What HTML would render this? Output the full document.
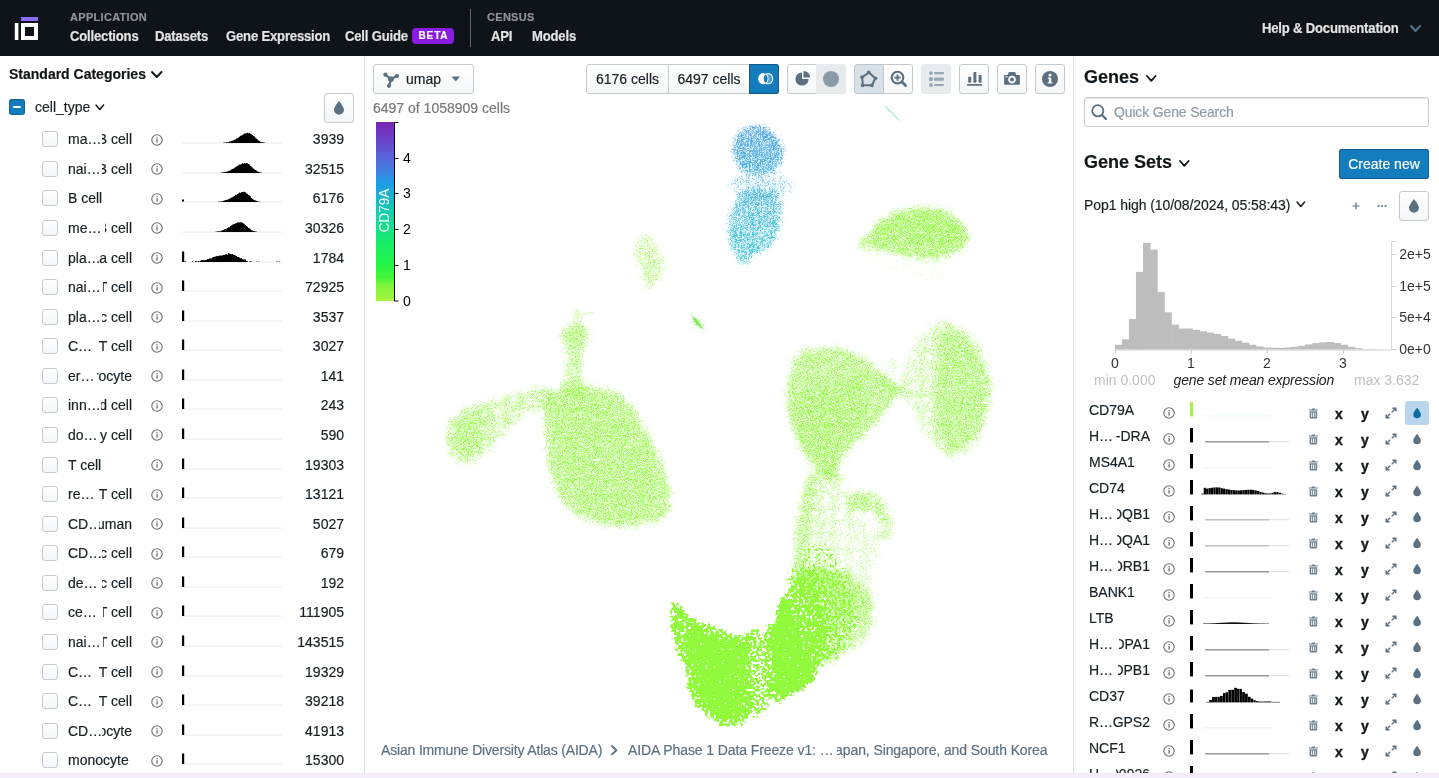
<!DOCTYPE html>
<html lang="en"><head><meta charset="utf-8"><title>CZ CELLxGENE Explorer</title>
<style>
*{box-sizing:border-box;margin:0;padding:0}
html,body{width:1439px;height:778px;overflow:hidden;background:#fff}
body{opacity:.999;-webkit-text-stroke:.18px;font-family:"Liberation Sans",Arial,sans-serif;font-size:14px;color:#182026;position:relative}
.abs{position:absolute}
#nav{position:absolute;left:0;top:0;width:1439px;height:56px;background:#0f141a}
#nav .sec{position:absolute;top:11px;font-size:11px;font-weight:700;color:#8f949a;letter-spacing:.3px;line-height:12px;white-space:nowrap}
#nav .lnk{position:absolute;top:28px;font-size:14px;font-weight:700;color:#e4e4e4;line-height:16px;white-space:nowrap;letter-spacing:-.2px;transform:scaleX(.935);transform-origin:0 0}
#beta{position:absolute;left:412px;top:28px;width:42px;height:16px;border-radius:4px;background:#8a1be0;color:#fff;font-size:10px;font-weight:700;letter-spacing:.85px;line-height:16px;text-align:center;padding-left:1px}
#left{position:absolute;left:0;top:56px;width:365px;height:717px;border-right:1px solid #d5dfe7;overflow:hidden;background:#fff}
#right{position:absolute;left:1073px;top:56px;width:366px;height:717px;border-left:1px solid #dcdfe2;overflow:hidden;background:#fff}
#bottom{position:absolute;left:0;top:773px;width:1439px;height:5px;background:#f4eefa}
.h1{position:absolute;font-weight:700;white-space:nowrap;color:#10161a}
.row{position:absolute;left:0;width:364px;height:30px}
.cb{position:absolute;left:42px;top:7px;width:16px;height:16px;border-radius:3px;border:1px solid #c5cbd1;background:linear-gradient(#fff,#f3f6f8)}
.lab{position:absolute;left:68px;top:6px;line-height:18px;white-space:nowrap;font-size:14px;color:#182026}
.lab span{display:inline-block;vertical-align:top;overflow:hidden;height:18px}
.cnt{position:absolute;right:20px;top:6px;line-height:18px;font-size:14px;text-align:right;color:#182026}
.btn{position:absolute;border:1px solid #c4cad0;border-radius:3px;background:linear-gradient(#fff,#f4f6f8);}
.grow{position:absolute;left:0;width:364px;height:26px}
.glab{position:absolute;left:14px;top:3px;line-height:18px;white-space:nowrap;font-size:14px;color:#182026}
.glab span{display:inline-block;vertical-align:top;overflow:hidden;height:18px}
.xy{position:absolute;top:7px;font-weight:700;font-size:14px;line-height:18px;color:#10161a;-webkit-text-stroke:.35px #10161a}
</style></head>
<body>
<div id="nav">
<svg class="abs" style="left:0;top:0" width="60" height="56"><rect x="21" y="17" width="17" height="4" fill="#8b6cf6"/><rect x="14.8" y="23" width="3.6" height="17" fill="#fff"/><path d="M21 23h17v17h-17z M25 27v9h9v-9z" fill="#fff" fill-rule="evenodd"/></svg>
<div class="sec" style="left:70px">APPLICATION</div>
<div class="lnk" style="left:70px">Collections</div>
<div class="lnk" style="left:155px">Datasets</div>
<div class="lnk" style="left:226px">Gene Expression</div>
<div class="lnk" style="left:345px">Cell Guide</div>
<div id="beta">BETA</div>
<div class="abs" style="left:470px;top:9px;width:1px;height:38px;background:#60656b"></div>
<div class="sec" style="left:487px">CENSUS</div>
<div class="lnk" style="left:491px">API</div>
<div class="lnk" style="left:532px">Models</div>
<div class="lnk" style="left:1262px;top:20px">Help &amp; Documentation</div>
<svg class="abs" style="left:1408.5px;top:23.5px" width="13" height="9" viewBox="-2 -2 13 9"><path d="M0 0 L4.5 5 L9 0" fill="none" stroke="#56708a" stroke-width="2.0" stroke-linecap="round" stroke-linejoin="round"/></svg>
</div>
<div id="left">
<div class="h1" style="left:9px;top:9px;font-size:14px;line-height:18px">Standard Categories</div>
<svg class="abs" style="left:150px;top:13.5px" width="13.5" height="9" viewBox="-2 -2 13.5 9"><path d="M0 0 L4.75 5 L9.5 0" fill="none" stroke="#10161a" stroke-width="1.9" stroke-linecap="round" stroke-linejoin="round"/></svg>
<div class="abs" style="left:9px;top:43px;width:16px;height:16px;border-radius:3px;background:#137cbd;box-shadow:inset 0 0 0 1px rgba(16,22,26,.25)"></div>
<div class="abs" style="left:13px;top:50px;width:8px;height:2.3px;border-radius:1px;background:#fff"></div>
<div class="abs" style="left:35px;top:42px;line-height:18px;font-size:14px">cell_type</div>
<svg class="abs" style="left:94.3px;top:46.8px" width="11.6" height="8.4" viewBox="-2 -2 11.6 8.4"><path d="M0 0 L3.8 4.4 L7.6 0" fill="none" stroke="#10161a" stroke-width="1.5" stroke-linecap="round" stroke-linejoin="round"/></svg>
<div class="btn" style="left:324px;top:37px;width:30px;height:30px"></div>
<svg class="abs" style="left:331px;top:44px" width="16" height="16" viewBox="0 0 16 16"><path d="M8 1 C8 1 3 7 3 9.8 A5 4.9 0 0 0 13 9.8 C13 7 8 1 8 1 Z" fill="#5c7080"/></svg>
<div class="row" style="top:68.20px">
<div class="cb"></div>
<div class="lab">ma…</div>
<div class="lab" style="left:auto;right:232px"><span style="direction:rtl;text-align:right"><span style="direction:ltr;margin-left:-4px">B cell</span></span></div>
<svg class="abs" style="left:150px;top:8.5px" width="14" height="14" viewBox="0 0 14 14"><circle cx="7" cy="7" r="5.2" fill="none" stroke="#6b6f73" stroke-width="1.1"/><rect x="6.4" y="6.2" width="1.3" height="3.4" fill="#6b6f73"/><rect x="6.4" y="4.1" width="1.3" height="1.3" fill="#6b6f73"/></svg>
<svg class="abs" style="left:182px;top:4px" width="101" height="16" viewBox="0 0 101 16"><rect x="0" y="14.7" width="100" height="0.7" fill="#e2e2e2"/><rect x="41" y="14.7" width="1" height="0.3" fill="#000"/><rect x="42" y="14.6" width="1" height="0.4" fill="#000"/><rect x="43" y="14.5" width="1" height="0.5" fill="#000"/><rect x="44" y="14.3" width="1" height="0.7" fill="#000"/><rect x="45" y="14.3" width="1" height="0.7" fill="#000"/><rect x="46" y="14.2" width="1" height="0.8" fill="#000"/><rect x="47" y="13.5" width="1" height="1.5" fill="#000"/><rect x="48" y="13.6" width="1" height="1.4" fill="#000"/><rect x="49" y="13.0" width="1" height="2.0" fill="#000"/><rect x="50" y="12.7" width="1" height="2.3" fill="#000"/><rect x="51" y="12.4" width="1" height="2.6" fill="#000"/><rect x="52" y="11.6" width="1" height="3.4" fill="#000"/><rect x="53" y="11.4" width="1" height="3.6" fill="#000"/><rect x="54" y="10.5" width="1" height="4.5" fill="#000"/><rect x="55" y="10.2" width="1" height="4.8" fill="#000"/><rect x="56" y="9.5" width="1" height="5.5" fill="#000"/><rect x="57" y="8.7" width="1" height="6.3" fill="#000"/><rect x="58" y="7.8" width="1" height="7.2" fill="#000"/><rect x="59" y="7.6" width="1" height="7.4" fill="#000"/><rect x="60" y="7.0" width="1" height="8.0" fill="#000"/><rect x="61" y="6.2" width="1" height="8.8" fill="#000"/><rect x="62" y="5.5" width="1" height="9.5" fill="#000"/><rect x="63" y="5.4" width="1" height="9.6" fill="#000"/><rect x="64" y="5.3" width="1" height="9.7" fill="#000"/><rect x="65" y="4.7" width="1" height="10.3" fill="#000"/><rect x="66" y="5.3" width="1" height="9.7" fill="#000"/><rect x="67" y="4.9" width="1" height="10.1" fill="#000"/><rect x="68" y="5.7" width="1" height="9.3" fill="#000"/><rect x="69" y="6.4" width="1" height="8.6" fill="#000"/><rect x="70" y="7.1" width="1" height="7.9" fill="#000"/><rect x="71" y="7.9" width="1" height="7.1" fill="#000"/><rect x="72" y="8.5" width="1" height="6.5" fill="#000"/><rect x="73" y="9.9" width="1" height="5.1" fill="#000"/><rect x="74" y="10.6" width="1" height="4.4" fill="#000"/><rect x="75" y="11.4" width="1" height="3.6" fill="#000"/><rect x="76" y="12.4" width="1" height="2.6" fill="#000"/><rect x="77" y="12.9" width="1" height="2.1" fill="#000"/><rect x="78" y="13.8" width="1" height="1.2" fill="#000"/><rect x="79" y="14.2" width="1" height="0.8" fill="#000"/><rect x="80" y="14.2" width="1" height="0.8" fill="#000"/><rect x="81" y="14.5" width="1" height="0.5" fill="#000"/><rect x="82" y="14.6" width="1" height="0.4" fill="#000"/></svg>
<div class="cnt">3939</div>
</div>
<div class="row" style="top:97.78px">
<div class="cb"></div>
<div class="lab">nai…</div>
<div class="lab" style="left:auto;right:232px"><span style="direction:rtl;text-align:right"><span style="direction:ltr;margin-left:-4px">B cell</span></span></div>
<svg class="abs" style="left:150px;top:8.5px" width="14" height="14" viewBox="0 0 14 14"><circle cx="7" cy="7" r="5.2" fill="none" stroke="#6b6f73" stroke-width="1.1"/><rect x="6.4" y="6.2" width="1.3" height="3.4" fill="#6b6f73"/><rect x="6.4" y="4.1" width="1.3" height="1.3" fill="#6b6f73"/></svg>
<svg class="abs" style="left:182px;top:4px" width="101" height="16" viewBox="0 0 101 16"><rect x="0" y="14.7" width="100" height="0.7" fill="#e2e2e2"/><rect x="38" y="14.7" width="1" height="0.3" fill="#000"/><rect x="39" y="14.6" width="1" height="0.4" fill="#000"/><rect x="40" y="14.5" width="1" height="0.5" fill="#000"/><rect x="41" y="14.3" width="1" height="0.7" fill="#000"/><rect x="42" y="14.3" width="1" height="0.7" fill="#000"/><rect x="43" y="13.8" width="1" height="1.2" fill="#000"/><rect x="44" y="13.7" width="1" height="1.3" fill="#000"/><rect x="45" y="13.5" width="1" height="1.5" fill="#000"/><rect x="46" y="12.9" width="1" height="2.1" fill="#000"/><rect x="47" y="12.6" width="1" height="2.4" fill="#000"/><rect x="48" y="12.3" width="1" height="2.7" fill="#000"/><rect x="49" y="11.4" width="1" height="3.6" fill="#000"/><rect x="50" y="10.9" width="1" height="4.1" fill="#000"/><rect x="51" y="10.7" width="1" height="4.3" fill="#000"/><rect x="52" y="9.8" width="1" height="5.2" fill="#000"/><rect x="53" y="9.2" width="1" height="5.8" fill="#000"/><rect x="54" y="8.4" width="1" height="6.6" fill="#000"/><rect x="55" y="7.8" width="1" height="7.2" fill="#000"/><rect x="56" y="7.5" width="1" height="7.5" fill="#000"/><rect x="57" y="6.5" width="1" height="8.5" fill="#000"/><rect x="58" y="6.6" width="1" height="8.4" fill="#000"/><rect x="59" y="5.9" width="1" height="9.1" fill="#000"/><rect x="60" y="5.3" width="1" height="9.7" fill="#000"/><rect x="61" y="5.5" width="1" height="9.5" fill="#000"/><rect x="62" y="5.1" width="1" height="9.9" fill="#000"/><rect x="63" y="5.3" width="1" height="9.7" fill="#000"/><rect x="64" y="5.0" width="1" height="10.0" fill="#000"/><rect x="65" y="5.3" width="1" height="9.7" fill="#000"/><rect x="66" y="6.1" width="1" height="8.9" fill="#000"/><rect x="67" y="6.6" width="1" height="8.4" fill="#000"/><rect x="68" y="7.9" width="1" height="7.1" fill="#000"/><rect x="69" y="8.6" width="1" height="6.4" fill="#000"/><rect x="70" y="9.6" width="1" height="5.4" fill="#000"/><rect x="71" y="10.6" width="1" height="4.4" fill="#000"/><rect x="72" y="11.5" width="1" height="3.5" fill="#000"/><rect x="73" y="12.0" width="1" height="3.0" fill="#000"/><rect x="74" y="12.6" width="1" height="2.4" fill="#000"/><rect x="75" y="13.5" width="1" height="1.5" fill="#000"/><rect x="76" y="13.8" width="1" height="1.2" fill="#000"/><rect x="77" y="14.2" width="1" height="0.8" fill="#000"/><rect x="78" y="14.5" width="1" height="0.5" fill="#000"/><rect x="79" y="14.6" width="1" height="0.4" fill="#000"/></svg>
<div class="cnt">32515</div>
</div>
<div class="row" style="top:127.35px">
<div class="cb"></div>
<div class="lab">B cell</div>
<svg class="abs" style="left:150px;top:8.5px" width="14" height="14" viewBox="0 0 14 14"><circle cx="7" cy="7" r="5.2" fill="none" stroke="#6b6f73" stroke-width="1.1"/><rect x="6.4" y="6.2" width="1.3" height="3.4" fill="#6b6f73"/><rect x="6.4" y="4.1" width="1.3" height="1.3" fill="#6b6f73"/></svg>
<svg class="abs" style="left:182px;top:4px" width="101" height="16" viewBox="0 0 101 16"><rect x="0" y="14.7" width="100" height="0.7" fill="#e2e2e2"/><rect x="36" y="14.7" width="1" height="0.3" fill="#000"/><rect x="37" y="14.6" width="1" height="0.4" fill="#000"/><rect x="38" y="14.5" width="1" height="0.5" fill="#000"/><rect x="39" y="14.3" width="1" height="0.7" fill="#000"/><rect x="40" y="14.4" width="1" height="0.6" fill="#000"/><rect x="41" y="13.8" width="1" height="1.2" fill="#000"/><rect x="42" y="13.5" width="1" height="1.5" fill="#000"/><rect x="43" y="13.0" width="1" height="2.0" fill="#000"/><rect x="44" y="12.8" width="1" height="2.2" fill="#000"/><rect x="45" y="12.7" width="1" height="2.3" fill="#000"/><rect x="46" y="12.2" width="1" height="2.8" fill="#000"/><rect x="47" y="11.5" width="1" height="3.5" fill="#000"/><rect x="48" y="11.4" width="1" height="3.6" fill="#000"/><rect x="49" y="10.5" width="1" height="4.5" fill="#000"/><rect x="50" y="10.1" width="1" height="4.9" fill="#000"/><rect x="51" y="9.5" width="1" height="5.5" fill="#000"/><rect x="52" y="8.9" width="1" height="6.1" fill="#000"/><rect x="53" y="7.8" width="1" height="7.2" fill="#000"/><rect x="54" y="7.6" width="1" height="7.4" fill="#000"/><rect x="55" y="7.0" width="1" height="8.0" fill="#000"/><rect x="56" y="6.4" width="1" height="8.6" fill="#000"/><rect x="57" y="5.6" width="1" height="9.4" fill="#000"/><rect x="58" y="5.8" width="1" height="9.2" fill="#000"/><rect x="59" y="5.3" width="1" height="9.7" fill="#000"/><rect x="60" y="5.0" width="1" height="10.0" fill="#000"/><rect x="61" y="4.7" width="1" height="10.3" fill="#000"/><rect x="62" y="4.9" width="1" height="10.1" fill="#000"/><rect x="63" y="5.3" width="1" height="9.7" fill="#000"/><rect x="64" y="6.3" width="1" height="8.7" fill="#000"/><rect x="65" y="6.9" width="1" height="8.1" fill="#000"/><rect x="66" y="7.9" width="1" height="7.1" fill="#000"/><rect x="67" y="8.5" width="1" height="6.5" fill="#000"/><rect x="68" y="9.4" width="1" height="5.6" fill="#000"/><rect x="69" y="10.9" width="1" height="4.1" fill="#000"/><rect x="70" y="11.7" width="1" height="3.3" fill="#000"/><rect x="71" y="12.5" width="1" height="2.5" fill="#000"/><rect x="72" y="13.1" width="1" height="1.9" fill="#000"/><rect x="73" y="13.5" width="1" height="1.5" fill="#000"/><rect x="74" y="13.8" width="1" height="1.2" fill="#000"/><rect x="75" y="14.2" width="1" height="0.8" fill="#000"/><rect x="76" y="14.5" width="1" height="0.5" fill="#000"/><rect x="77" y="14.6" width="1" height="0.4" fill="#000"/><rect x="0" y="12.5" width="2" height="2" fill="#000"/></svg>
<div class="cnt">6176</div>
</div>
<div class="row" style="top:156.93px">
<div class="cb"></div>
<div class="lab">me…</div>
<div class="lab" style="left:auto;right:232px"><span style="direction:rtl;text-align:right"><span style="direction:ltr;margin-left:-7px">B cell</span></span></div>
<svg class="abs" style="left:150px;top:8.5px" width="14" height="14" viewBox="0 0 14 14"><circle cx="7" cy="7" r="5.2" fill="none" stroke="#6b6f73" stroke-width="1.1"/><rect x="6.4" y="6.2" width="1.3" height="3.4" fill="#6b6f73"/><rect x="6.4" y="4.1" width="1.3" height="1.3" fill="#6b6f73"/></svg>
<svg class="abs" style="left:182px;top:4px" width="101" height="16" viewBox="0 0 101 16"><rect x="0" y="14.7" width="100" height="0.7" fill="#e2e2e2"/><rect x="33" y="14.7" width="1" height="0.3" fill="#000"/><rect x="34" y="14.6" width="1" height="0.4" fill="#000"/><rect x="35" y="14.5" width="1" height="0.5" fill="#000"/><rect x="36" y="14.3" width="1" height="0.7" fill="#000"/><rect x="37" y="14.3" width="1" height="0.7" fill="#000"/><rect x="38" y="14.3" width="1" height="0.7" fill="#000"/><rect x="39" y="13.7" width="1" height="1.3" fill="#000"/><rect x="40" y="13.4" width="1" height="1.6" fill="#000"/><rect x="41" y="12.9" width="1" height="2.1" fill="#000"/><rect x="42" y="12.3" width="1" height="2.7" fill="#000"/><rect x="43" y="12.0" width="1" height="3.0" fill="#000"/><rect x="44" y="11.6" width="1" height="3.4" fill="#000"/><rect x="45" y="11.0" width="1" height="4.0" fill="#000"/><rect x="46" y="10.4" width="1" height="4.6" fill="#000"/><rect x="47" y="10.2" width="1" height="4.8" fill="#000"/><rect x="48" y="9.0" width="1" height="6.0" fill="#000"/><rect x="49" y="8.4" width="1" height="6.6" fill="#000"/><rect x="50" y="7.7" width="1" height="7.3" fill="#000"/><rect x="51" y="7.2" width="1" height="7.8" fill="#000"/><rect x="52" y="6.9" width="1" height="8.1" fill="#000"/><rect x="53" y="6.4" width="1" height="8.6" fill="#000"/><rect x="54" y="6.1" width="1" height="8.9" fill="#000"/><rect x="55" y="5.4" width="1" height="9.6" fill="#000"/><rect x="56" y="5.5" width="1" height="9.5" fill="#000"/><rect x="57" y="5.4" width="1" height="9.6" fill="#000"/><rect x="58" y="5.2" width="1" height="9.8" fill="#000"/><rect x="59" y="5.4" width="1" height="9.6" fill="#000"/><rect x="60" y="5.6" width="1" height="9.4" fill="#000"/><rect x="61" y="6.4" width="1" height="8.6" fill="#000"/><rect x="62" y="7.2" width="1" height="7.8" fill="#000"/><rect x="63" y="8.0" width="1" height="7.0" fill="#000"/><rect x="64" y="9.0" width="1" height="6.0" fill="#000"/><rect x="65" y="9.8" width="1" height="5.2" fill="#000"/><rect x="66" y="11.0" width="1" height="4.0" fill="#000"/><rect x="67" y="11.3" width="1" height="3.7" fill="#000"/><rect x="68" y="12.2" width="1" height="2.8" fill="#000"/><rect x="69" y="13.2" width="1" height="1.8" fill="#000"/><rect x="70" y="13.6" width="1" height="1.4" fill="#000"/><rect x="71" y="14.0" width="1" height="1.0" fill="#000"/><rect x="72" y="14.2" width="1" height="0.8" fill="#000"/><rect x="73" y="14.5" width="1" height="0.5" fill="#000"/><rect x="74" y="14.6" width="1" height="0.4" fill="#000"/></svg>
<div class="cnt">30326</div>
</div>
<div class="row" style="top:186.50px">
<div class="cb"></div>
<div class="lab">pla…</div>
<div class="lab" style="left:auto;right:232px"><span style="direction:rtl;text-align:right"><span style="direction:ltr;margin-left:-0px">a cell</span></span></div>
<svg class="abs" style="left:150px;top:8.5px" width="14" height="14" viewBox="0 0 14 14"><circle cx="7" cy="7" r="5.2" fill="none" stroke="#6b6f73" stroke-width="1.1"/><rect x="6.4" y="6.2" width="1.3" height="3.4" fill="#6b6f73"/><rect x="6.4" y="4.1" width="1.3" height="1.3" fill="#6b6f73"/></svg>
<svg class="abs" style="left:182px;top:4px" width="101" height="16" viewBox="0 0 101 16"><rect x="0" y="14.7" width="100" height="0.7" fill="#e2e2e2"/><rect x="2" y="14.6" width="1" height="0.4" fill="#000"/><rect x="3" y="14.4" width="1" height="0.6" fill="#000"/><rect x="10" y="14.3" width="1" height="0.7" fill="#000"/><rect x="13" y="14.0" width="1" height="1.0" fill="#000"/><rect x="14" y="14.3" width="1" height="0.7" fill="#000"/><rect x="15" y="14.6" width="1" height="0.4" fill="#000"/><rect x="16" y="14.1" width="1" height="0.9" fill="#000"/><rect x="17" y="14.5" width="1" height="0.5" fill="#000"/><rect x="18" y="13.8" width="1" height="1.2" fill="#000"/><rect x="19" y="13.2" width="1" height="1.8" fill="#000"/><rect x="20" y="13.1" width="1" height="1.9" fill="#000"/><rect x="21" y="13.1" width="1" height="1.9" fill="#000"/><rect x="22" y="13.3" width="1" height="1.7" fill="#000"/><rect x="23" y="13.0" width="1" height="2.0" fill="#000"/><rect x="24" y="12.9" width="1" height="2.1" fill="#000"/><rect x="25" y="12.0" width="1" height="3.0" fill="#000"/><rect x="26" y="12.0" width="1" height="3.0" fill="#000"/><rect x="27" y="11.4" width="1" height="3.6" fill="#000"/><rect x="28" y="11.6" width="1" height="3.4" fill="#000"/><rect x="29" y="11.4" width="1" height="3.6" fill="#000"/><rect x="30" y="10.5" width="1" height="4.5" fill="#000"/><rect x="31" y="10.0" width="1" height="5.0" fill="#000"/><rect x="32" y="9.8" width="1" height="5.2" fill="#000"/><rect x="33" y="9.5" width="1" height="5.5" fill="#000"/><rect x="34" y="9.2" width="1" height="5.8" fill="#000"/><rect x="35" y="8.9" width="1" height="6.1" fill="#000"/><rect x="36" y="9.2" width="1" height="5.8" fill="#000"/><rect x="37" y="8.6" width="1" height="6.4" fill="#000"/><rect x="38" y="8.5" width="1" height="6.5" fill="#000"/><rect x="39" y="8.6" width="1" height="6.4" fill="#000"/><rect x="40" y="8.4" width="1" height="6.6" fill="#000"/><rect x="41" y="8.0" width="1" height="7.0" fill="#000"/><rect x="42" y="7.9" width="1" height="7.1" fill="#000"/><rect x="43" y="7.4" width="1" height="7.6" fill="#000"/><rect x="44" y="7.1" width="1" height="7.9" fill="#000"/><rect x="45" y="7.6" width="1" height="7.4" fill="#000"/><rect x="46" y="6.0" width="1" height="9.0" fill="#000"/><rect x="47" y="6.6" width="1" height="8.4" fill="#000"/><rect x="48" y="6.9" width="1" height="8.1" fill="#000"/><rect x="49" y="7.2" width="1" height="7.8" fill="#000"/><rect x="50" y="7.1" width="1" height="7.9" fill="#000"/><rect x="51" y="7.8" width="1" height="7.2" fill="#000"/><rect x="52" y="8.0" width="1" height="7.0" fill="#000"/><rect x="53" y="8.6" width="1" height="6.4" fill="#000"/><rect x="54" y="9.0" width="1" height="6.0" fill="#000"/><rect x="55" y="9.8" width="1" height="5.2" fill="#000"/><rect x="56" y="10.0" width="1" height="5.0" fill="#000"/><rect x="57" y="10.5" width="1" height="4.5" fill="#000"/><rect x="58" y="11.2" width="1" height="3.8" fill="#000"/><rect x="59" y="11.2" width="1" height="3.8" fill="#000"/><rect x="60" y="12.2" width="1" height="2.8" fill="#000"/><rect x="61" y="12.5" width="1" height="2.5" fill="#000"/><rect x="62" y="12.3" width="1" height="2.7" fill="#000"/><rect x="63" y="12.5" width="1" height="2.5" fill="#000"/><rect x="64" y="14.1" width="1" height="0.9" fill="#000"/><rect x="65" y="14.3" width="1" height="0.7" fill="#000"/><rect x="67" y="14.5" width="1" height="0.5" fill="#000"/><rect x="68" y="14.4" width="1" height="0.6" fill="#000"/><rect x="69" y="14.5" width="1" height="0.5" fill="#000"/><rect x="74" y="14.6" width="1" height="0.4" fill="#000"/><rect x="76" y="14.7" width="1" height="0.3" fill="#000"/><rect x="77" y="14.7" width="1" height="0.3" fill="#000"/><rect x="94" y="14.6" width="1" height="0.4" fill="#000"/><rect x="95" y="14.7" width="1" height="0.3" fill="#000"/><rect x="97" y="14.6" width="1" height="0.4" fill="#000"/><rect x="0" y="4.5" width="2.2" height="10.5" fill="#000"/></svg>
<div class="cnt">1784</div>
</div>
<div class="row" style="top:216.07px">
<div class="cb"></div>
<div class="lab">nai…</div>
<div class="lab" style="left:auto;right:232px"><span style="direction:rtl;text-align:right"><span style="direction:ltr;margin-left:-4px">T cell</span></span></div>
<svg class="abs" style="left:150px;top:8.5px" width="14" height="14" viewBox="0 0 14 14"><circle cx="7" cy="7" r="5.2" fill="none" stroke="#6b6f73" stroke-width="1.1"/><rect x="6.4" y="6.2" width="1.3" height="3.4" fill="#6b6f73"/><rect x="6.4" y="4.1" width="1.3" height="1.3" fill="#6b6f73"/></svg>
<svg class="abs" style="left:182px;top:4px" width="101" height="16" viewBox="0 0 101 16"><rect x="0" y="14.7" width="100" height="0.7" fill="#e2e2e2"/><rect x="0" y="4.5" width="2.2" height="10.5" fill="#000"/></svg>
<div class="cnt">72925</div>
</div>
<div class="row" style="top:245.65px">
<div class="cb"></div>
<div class="lab">pla…</div>
<div class="lab" style="left:auto;right:232px"><span style="direction:rtl;text-align:right"><span style="direction:ltr;margin-left:-2px">c cell</span></span></div>
<svg class="abs" style="left:150px;top:8.5px" width="14" height="14" viewBox="0 0 14 14"><circle cx="7" cy="7" r="5.2" fill="none" stroke="#6b6f73" stroke-width="1.1"/><rect x="6.4" y="6.2" width="1.3" height="3.4" fill="#6b6f73"/><rect x="6.4" y="4.1" width="1.3" height="1.3" fill="#6b6f73"/></svg>
<svg class="abs" style="left:182px;top:4px" width="101" height="16" viewBox="0 0 101 16"><rect x="0" y="14.7" width="100" height="0.7" fill="#e2e2e2"/><rect x="0" y="4.5" width="2.2" height="10.5" fill="#000"/></svg>
<div class="cnt">3537</div>
</div>
<div class="row" style="top:275.23px">
<div class="cb"></div>
<div class="lab">C…</div>
<div class="lab" style="left:auto;right:232px"><span style="direction:rtl;text-align:right"><span style="direction:ltr;margin-left:-0px">&nbsp;T cell</span></span></div>
<svg class="abs" style="left:150px;top:8.5px" width="14" height="14" viewBox="0 0 14 14"><circle cx="7" cy="7" r="5.2" fill="none" stroke="#6b6f73" stroke-width="1.1"/><rect x="6.4" y="6.2" width="1.3" height="3.4" fill="#6b6f73"/><rect x="6.4" y="4.1" width="1.3" height="1.3" fill="#6b6f73"/></svg>
<svg class="abs" style="left:182px;top:4px" width="101" height="16" viewBox="0 0 101 16"><rect x="0" y="14.7" width="100" height="0.7" fill="#e2e2e2"/><rect x="0" y="4.5" width="2.2" height="10.5" fill="#000"/></svg>
<div class="cnt">3027</div>
</div>
<div class="row" style="top:304.80px">
<div class="cb"></div>
<div class="lab">er…</div>
<div class="lab" style="left:auto;right:232px"><span style="direction:rtl;text-align:right"><span style="direction:ltr;margin-left:-3px">rocyte</span></span></div>
<svg class="abs" style="left:150px;top:8.5px" width="14" height="14" viewBox="0 0 14 14"><circle cx="7" cy="7" r="5.2" fill="none" stroke="#6b6f73" stroke-width="1.1"/><rect x="6.4" y="6.2" width="1.3" height="3.4" fill="#6b6f73"/><rect x="6.4" y="4.1" width="1.3" height="1.3" fill="#6b6f73"/></svg>
<svg class="abs" style="left:182px;top:4px" width="101" height="16" viewBox="0 0 101 16"><rect x="0" y="14.7" width="100" height="0.7" fill="#e2e2e2"/><rect x="0" y="4.5" width="2.2" height="10.5" fill="#000"/></svg>
<div class="cnt">141</div>
</div>
<div class="row" style="top:334.38px">
<div class="cb"></div>
<div class="lab">inn…</div>
<div class="lab" style="left:auto;right:232px"><span style="direction:rtl;text-align:right"><span style="direction:ltr;margin-left:-2px">d cell</span></span></div>
<svg class="abs" style="left:150px;top:8.5px" width="14" height="14" viewBox="0 0 14 14"><circle cx="7" cy="7" r="5.2" fill="none" stroke="#6b6f73" stroke-width="1.1"/><rect x="6.4" y="6.2" width="1.3" height="3.4" fill="#6b6f73"/><rect x="6.4" y="4.1" width="1.3" height="1.3" fill="#6b6f73"/></svg>
<svg class="abs" style="left:182px;top:4px" width="101" height="16" viewBox="0 0 101 16"><rect x="0" y="14.7" width="100" height="0.7" fill="#e2e2e2"/><rect x="0" y="4.5" width="2.2" height="10.5" fill="#000"/></svg>
<div class="cnt">243</div>
</div>
<div class="row" style="top:363.95px">
<div class="cb"></div>
<div class="lab">do…</div>
<div class="lab" style="left:auto;right:232px"><span style="direction:rtl;text-align:right"><span style="direction:ltr;margin-left:-0px">y cell</span></span></div>
<svg class="abs" style="left:150px;top:8.5px" width="14" height="14" viewBox="0 0 14 14"><circle cx="7" cy="7" r="5.2" fill="none" stroke="#6b6f73" stroke-width="1.1"/><rect x="6.4" y="6.2" width="1.3" height="3.4" fill="#6b6f73"/><rect x="6.4" y="4.1" width="1.3" height="1.3" fill="#6b6f73"/></svg>
<svg class="abs" style="left:182px;top:4px" width="101" height="16" viewBox="0 0 101 16"><rect x="0" y="14.7" width="100" height="0.7" fill="#e2e2e2"/><rect x="0" y="4.5" width="2.2" height="10.5" fill="#000"/></svg>
<div class="cnt">590</div>
</div>
<div class="row" style="top:393.52px">
<div class="cb"></div>
<div class="lab">T cell</div>
<svg class="abs" style="left:150px;top:8.5px" width="14" height="14" viewBox="0 0 14 14"><circle cx="7" cy="7" r="5.2" fill="none" stroke="#6b6f73" stroke-width="1.1"/><rect x="6.4" y="6.2" width="1.3" height="3.4" fill="#6b6f73"/><rect x="6.4" y="4.1" width="1.3" height="1.3" fill="#6b6f73"/></svg>
<svg class="abs" style="left:182px;top:4px" width="101" height="16" viewBox="0 0 101 16"><rect x="0" y="14.7" width="100" height="0.7" fill="#e2e2e2"/><rect x="0" y="4.5" width="2.2" height="10.5" fill="#000"/></svg>
<div class="cnt">19303</div>
</div>
<div class="row" style="top:423.10px">
<div class="cb"></div>
<div class="lab">re…</div>
<div class="lab" style="left:auto;right:232px"><span style="direction:rtl;text-align:right"><span style="direction:ltr;margin-left:-0px">&nbsp;T cell</span></span></div>
<svg class="abs" style="left:150px;top:8.5px" width="14" height="14" viewBox="0 0 14 14"><circle cx="7" cy="7" r="5.2" fill="none" stroke="#6b6f73" stroke-width="1.1"/><rect x="6.4" y="6.2" width="1.3" height="3.4" fill="#6b6f73"/><rect x="6.4" y="4.1" width="1.3" height="1.3" fill="#6b6f73"/></svg>
<svg class="abs" style="left:182px;top:4px" width="101" height="16" viewBox="0 0 101 16"><rect x="0" y="14.7" width="100" height="0.7" fill="#e2e2e2"/><rect x="0" y="4.5" width="2.2" height="10.5" fill="#000"/></svg>
<div class="cnt">13121</div>
</div>
<div class="row" style="top:452.67px">
<div class="cb"></div>
<div class="lab">CD…</div>
<div class="lab" style="left:auto;right:232px"><span style="direction:rtl;text-align:right"><span style="direction:ltr;margin-left:-2px">uman</span></span></div>
<svg class="abs" style="left:150px;top:8.5px" width="14" height="14" viewBox="0 0 14 14"><circle cx="7" cy="7" r="5.2" fill="none" stroke="#6b6f73" stroke-width="1.1"/><rect x="6.4" y="6.2" width="1.3" height="3.4" fill="#6b6f73"/><rect x="6.4" y="4.1" width="1.3" height="1.3" fill="#6b6f73"/></svg>
<svg class="abs" style="left:182px;top:4px" width="101" height="16" viewBox="0 0 101 16"><rect x="0" y="14.7" width="100" height="0.7" fill="#e2e2e2"/><rect x="0" y="4.5" width="2.2" height="10.5" fill="#000"/></svg>
<div class="cnt">5027</div>
</div>
<div class="row" style="top:482.25px">
<div class="cb"></div>
<div class="lab">CD…</div>
<div class="lab" style="left:auto;right:232px"><span style="direction:rtl;text-align:right"><span style="direction:ltr;margin-left:-2px">c cell</span></span></div>
<svg class="abs" style="left:150px;top:8.5px" width="14" height="14" viewBox="0 0 14 14"><circle cx="7" cy="7" r="5.2" fill="none" stroke="#6b6f73" stroke-width="1.1"/><rect x="6.4" y="6.2" width="1.3" height="3.4" fill="#6b6f73"/><rect x="6.4" y="4.1" width="1.3" height="1.3" fill="#6b6f73"/></svg>
<svg class="abs" style="left:182px;top:4px" width="101" height="16" viewBox="0 0 101 16"><rect x="0" y="14.7" width="100" height="0.7" fill="#e2e2e2"/><rect x="0" y="4.5" width="2.2" height="10.5" fill="#000"/></svg>
<div class="cnt">679</div>
</div>
<div class="row" style="top:511.82px">
<div class="cb"></div>
<div class="lab">de…</div>
<div class="lab" style="left:auto;right:232px"><span style="direction:rtl;text-align:right"><span style="direction:ltr;margin-left:-2px">c cell</span></span></div>
<svg class="abs" style="left:150px;top:8.5px" width="14" height="14" viewBox="0 0 14 14"><circle cx="7" cy="7" r="5.2" fill="none" stroke="#6b6f73" stroke-width="1.1"/><rect x="6.4" y="6.2" width="1.3" height="3.4" fill="#6b6f73"/><rect x="6.4" y="4.1" width="1.3" height="1.3" fill="#6b6f73"/></svg>
<svg class="abs" style="left:182px;top:4px" width="101" height="16" viewBox="0 0 101 16"><rect x="0" y="14.7" width="100" height="0.7" fill="#e2e2e2"/><rect x="0" y="4.5" width="2.2" height="10.5" fill="#000"/></svg>
<div class="cnt">192</div>
</div>
<div class="row" style="top:541.40px">
<div class="cb"></div>
<div class="lab">ce…</div>
<div class="lab" style="left:auto;right:232px"><span style="direction:rtl;text-align:right"><span style="direction:ltr;margin-left:-4px">T cell</span></span></div>
<svg class="abs" style="left:150px;top:8.5px" width="14" height="14" viewBox="0 0 14 14"><circle cx="7" cy="7" r="5.2" fill="none" stroke="#6b6f73" stroke-width="1.1"/><rect x="6.4" y="6.2" width="1.3" height="3.4" fill="#6b6f73"/><rect x="6.4" y="4.1" width="1.3" height="1.3" fill="#6b6f73"/></svg>
<svg class="abs" style="left:182px;top:4px" width="101" height="16" viewBox="0 0 101 16"><rect x="0" y="14.7" width="100" height="0.7" fill="#e2e2e2"/><rect x="0" y="4.5" width="2.2" height="10.5" fill="#000"/></svg>
<div class="cnt">111905</div>
</div>
<div class="row" style="top:570.98px">
<div class="cb"></div>
<div class="lab">nai…</div>
<div class="lab" style="left:auto;right:232px"><span style="direction:rtl;text-align:right"><span style="direction:ltr;margin-left:-4px">T cell</span></span></div>
<svg class="abs" style="left:150px;top:8.5px" width="14" height="14" viewBox="0 0 14 14"><circle cx="7" cy="7" r="5.2" fill="none" stroke="#6b6f73" stroke-width="1.1"/><rect x="6.4" y="6.2" width="1.3" height="3.4" fill="#6b6f73"/><rect x="6.4" y="4.1" width="1.3" height="1.3" fill="#6b6f73"/></svg>
<svg class="abs" style="left:182px;top:4px" width="101" height="16" viewBox="0 0 101 16"><rect x="0" y="14.7" width="100" height="0.7" fill="#e2e2e2"/><rect x="0" y="4.5" width="2.2" height="10.5" fill="#000"/></svg>
<div class="cnt">143515</div>
</div>
<div class="row" style="top:600.55px">
<div class="cb"></div>
<div class="lab">C…</div>
<div class="lab" style="left:auto;right:232px"><span style="direction:rtl;text-align:right"><span style="direction:ltr;margin-left:-0px">&nbsp;T cell</span></span></div>
<svg class="abs" style="left:150px;top:8.5px" width="14" height="14" viewBox="0 0 14 14"><circle cx="7" cy="7" r="5.2" fill="none" stroke="#6b6f73" stroke-width="1.1"/><rect x="6.4" y="6.2" width="1.3" height="3.4" fill="#6b6f73"/><rect x="6.4" y="4.1" width="1.3" height="1.3" fill="#6b6f73"/></svg>
<svg class="abs" style="left:182px;top:4px" width="101" height="16" viewBox="0 0 101 16"><rect x="0" y="14.7" width="100" height="0.7" fill="#e2e2e2"/><rect x="0" y="4.5" width="2.2" height="10.5" fill="#000"/></svg>
<div class="cnt">19329</div>
</div>
<div class="row" style="top:630.12px">
<div class="cb"></div>
<div class="lab">C…</div>
<div class="lab" style="left:auto;right:232px"><span style="direction:rtl;text-align:right"><span style="direction:ltr;margin-left:-0px">&nbsp;T cell</span></span></div>
<svg class="abs" style="left:150px;top:8.5px" width="14" height="14" viewBox="0 0 14 14"><circle cx="7" cy="7" r="5.2" fill="none" stroke="#6b6f73" stroke-width="1.1"/><rect x="6.4" y="6.2" width="1.3" height="3.4" fill="#6b6f73"/><rect x="6.4" y="4.1" width="1.3" height="1.3" fill="#6b6f73"/></svg>
<svg class="abs" style="left:182px;top:4px" width="101" height="16" viewBox="0 0 101 16"><rect x="0" y="14.7" width="100" height="0.7" fill="#e2e2e2"/><rect x="0" y="4.5" width="2.2" height="10.5" fill="#000"/></svg>
<div class="cnt">39218</div>
</div>
<div class="row" style="top:659.70px">
<div class="cb"></div>
<div class="lab">CD…</div>
<div class="lab" style="left:auto;right:232px"><span style="direction:rtl;text-align:right"><span style="direction:ltr;margin-left:-3px">ocyte</span></span></div>
<svg class="abs" style="left:150px;top:8.5px" width="14" height="14" viewBox="0 0 14 14"><circle cx="7" cy="7" r="5.2" fill="none" stroke="#6b6f73" stroke-width="1.1"/><rect x="6.4" y="6.2" width="1.3" height="3.4" fill="#6b6f73"/><rect x="6.4" y="4.1" width="1.3" height="1.3" fill="#6b6f73"/></svg>
<svg class="abs" style="left:182px;top:4px" width="101" height="16" viewBox="0 0 101 16"><rect x="0" y="14.7" width="100" height="0.7" fill="#e2e2e2"/><rect x="0" y="4.5" width="2.2" height="10.5" fill="#000"/></svg>
<div class="cnt">41913</div>
</div>
<div class="row" style="top:689.27px">
<div class="cb"></div>
<div class="lab">monocyte</div>
<svg class="abs" style="left:150px;top:8.5px" width="14" height="14" viewBox="0 0 14 14"><circle cx="7" cy="7" r="5.2" fill="none" stroke="#6b6f73" stroke-width="1.1"/><rect x="6.4" y="6.2" width="1.3" height="3.4" fill="#6b6f73"/><rect x="6.4" y="4.1" width="1.3" height="1.3" fill="#6b6f73"/></svg>
<svg class="abs" style="left:182px;top:4px" width="101" height="16" viewBox="0 0 101 16"><rect x="0" y="14.7" width="100" height="0.7" fill="#e2e2e2"/><rect x="0" y="4.5" width="2.2" height="10.5" fill="#000"/></svg>
<div class="cnt">15300</div>
</div>
</div>
<div id="center" class="abs" style="left:365px;top:56px;width:709px;height:717px;overflow:hidden">
<svg class="abs" style="left:0;top:0" width="709" height="716" viewBox="365 56 709 716"><defs><linearGradient id="bg" gradientUnits="userSpaceOnUse" x1="0" y1="123" x2="0" y2="265"><stop offset="0" stop-color="#3d9be4"/><stop offset="0.45" stop-color="#36aede"/><stop offset="1" stop-color="#2fc4d2"/></linearGradient><filter id="spL" x="365" y="56" width="709" height="716" filterUnits="userSpaceOnUse" color-interpolation-filters="sRGB"><feGaussianBlur in="SourceGraphic" stdDeviation="3.3" result="bl"/><feComponentTransfer in="bl" result="solid"><feFuncA type="linear" slope="200" intercept="0"/></feComponentTransfer><feTurbulence type="fractalNoise" baseFrequency="0.93" numOctaves="2" seed="5" result="n"/><feColorMatrix in="n" type="matrix" values="0 0 0 0 0  0 0 0 0 0  0 0 0 0 0  0 0 0 2.6 -0.8" result="na"/><feComposite in="bl" in2="na" operator="arithmetic" k1="0" k2="2" k3="-2" k4="0" result="m"/><feComposite in="solid" in2="m" operator="in" result="o"/><feConvolveMatrix in="o" order="3" kernelMatrix="0.5 1 0.5 1 10 1 0.5 1 0.5" divisor="16" edgeMode="none" preserveAlpha="false"/></filter><filter id="spD" x="365" y="56" width="709" height="716" filterUnits="userSpaceOnUse" color-interpolation-filters="sRGB"><feGaussianBlur in="SourceGraphic" stdDeviation="1.5" result="bl"/><feComponentTransfer in="bl" result="solid"><feFuncA type="linear" slope="200" intercept="0"/></feComponentTransfer><feTurbulence type="fractalNoise" baseFrequency="0.37" numOctaves="1" seed="11" result="n"/><feColorMatrix in="n" type="matrix" values="0 0 0 0 0  0 0 0 0 0  0 0 0 0 0  0 0 0 2.5 -0.85" result="na"/><feComposite in="bl" in2="na" operator="arithmetic" k1="0" k2="8" k3="-8" k4="0" result="m"/><feComposite in="solid" in2="m" operator="in" result="o"/></filter><filter id="spB" x="365" y="56" width="709" height="716" filterUnits="userSpaceOnUse" color-interpolation-filters="sRGB"><feGaussianBlur in="SourceGraphic" stdDeviation="2.4" result="bl"/><feComponentTransfer in="bl" result="solid"><feFuncA type="linear" slope="200" intercept="0"/></feComponentTransfer><feTurbulence type="fractalNoise" baseFrequency="0.91" numOctaves="2" seed="23" result="n"/><feColorMatrix in="n" type="matrix" values="0 0 0 0 0  0 0 0 0 0  0 0 0 0 0  0 0 0 2.6 -0.8" result="na"/><feComposite in="bl" in2="na" operator="arithmetic" k1="0" k2="2" k3="-2" k4="0" result="m"/><feComposite in="solid" in2="m" operator="in" result="o"/><feConvolveMatrix in="o" order="3" kernelMatrix="0.5 1 0.5 1 10 1 0.5 1 0.5" divisor="16" edgeMode="none" preserveAlpha="false"/></filter></defs><g filter="url(#spL)"><path d="M858.0 246.0 C858.0 240.3 857.7 242.7 867.0 233.0 C876.3 223.3 873.3 225.0 886.0 217.0 C898.7 209.0 892.0 212.3 905.0 209.0 C918.0 205.7 911.0 206.3 925.0 207.0 C939.0 207.7 935.0 206.3 947.0 211.0 C959.0 215.7 953.7 213.3 961.0 221.0 C968.3 228.7 967.0 226.0 969.0 234.0 C971.0 242.0 972.0 238.0 967.0 245.0 C962.0 252.0 964.7 250.0 954.0 255.0 C943.3 260.0 949.7 258.7 935.0 260.0 C920.3 261.3 926.7 261.3 910.0 259.0 C893.3 256.7 899.3 256.0 885.0 253.0 C870.7 250.0 876.0 252.3 867.0 250.0 C858.0 247.7 858.0 251.7 858.0 246.0Z" fill="#90f83a" fill-opacity="0.75"/><path d="M880.0 218.0 C890.7 209.0 888.3 211.0 910.0 209.0 C931.7 207.0 927.0 206.3 945.0 212.0 C963.0 217.7 957.0 216.7 964.0 226.0 C971.0 235.3 974.0 232.7 966.0 240.0 C958.0 247.3 960.3 246.7 940.0 248.0 C919.7 249.3 925.7 248.0 905.0 244.0 C884.3 240.0 886.3 244.7 878.0 236.0 C869.7 227.3 869.3 227.0 880.0 218.0Z" fill="#90f83a" fill-opacity="0.33"/><path d="M870.0 255.0 C876.7 253.0 875.0 258.3 900.0 262.0 C925.0 265.7 933.3 259.3 945.0 266.0 C956.7 272.7 945.0 278.0 935.0 282.0 C925.0 286.0 933.3 282.7 915.0 278.0 C896.7 273.3 895.0 275.7 880.0 268.0 C865.0 260.3 863.3 257.0 870.0 255.0Z" fill="#90f83a" fill-opacity="0.12"/><path d="M645.0 234.0 C650.7 235.0 649.3 236.0 655.0 243.0 C660.7 250.0 659.0 246.7 662.0 255.0 C665.0 263.3 665.0 259.3 664.0 268.0 C663.0 276.7 663.7 274.0 659.0 281.0 C654.3 288.0 655.3 288.7 650.0 289.0 C644.7 289.3 646.7 289.0 643.0 282.0 C639.3 275.0 642.0 278.3 639.0 268.0 C636.0 257.7 634.3 260.3 634.0 251.0 C633.7 241.7 634.3 245.7 638.0 240.0 C641.7 234.3 639.3 233.0 645.0 234.0Z" fill="#90f83a" fill-opacity="0.54"/><path d="M692.0 315.0 C693.7 314.7 693.3 315.3 697.0 319.0 C700.7 322.7 701.0 322.3 703.0 326.0 C705.0 329.7 704.7 329.7 703.0 330.0 C701.3 330.3 701.7 330.3 698.0 327.0 C694.3 323.7 694.0 324.0 692.0 320.0 C690.0 316.0 690.3 315.3 692.0 315.0Z" fill="#5ee22a" fill-opacity="1"/><path d="M574.0 311.0 C575.7 309.0 577.7 309.3 580.0 311.0 C582.3 312.7 582.7 314.0 581.0 316.0 C579.3 318.0 577.3 318.7 575.0 317.0 C572.7 315.3 572.3 313.0 574.0 311.0Z" fill="#90f83a" fill-opacity="1"/><path d="M564.0 328.0 C568.7 322.3 567.3 322.7 575.0 322.0 C582.7 321.3 582.0 320.7 587.0 326.0 C592.0 331.3 590.7 329.3 590.0 338.0 C589.3 346.7 587.3 340.7 585.0 352.0 C582.7 363.3 582.7 358.7 583.0 372.0 C583.3 385.3 593.0 385.3 586.0 392.0 C579.0 398.7 569.0 399.3 562.0 392.0 C555.0 384.7 564.0 384.0 565.0 370.0 C566.0 356.0 566.3 360.3 565.0 350.0 C563.7 339.7 561.3 346.3 561.0 339.0 C560.7 331.7 559.3 333.7 564.0 328.0Z" fill="#90f83a" fill-opacity="0.63"/><path d="M566.0 328.0 C569.7 322.7 569.3 324.0 576.0 324.0 C582.7 324.0 582.3 322.7 586.0 328.0 C589.7 333.3 590.3 334.0 587.0 340.0 C583.7 346.0 583.3 346.0 576.0 346.0 C568.7 346.0 568.3 346.0 565.0 340.0 C561.7 334.0 562.3 333.3 566.0 328.0Z" fill="#90f83a" fill-opacity="0.3"/><path d="M446.0 434.0 C447.3 424.0 444.3 427.0 451.0 418.0 C457.7 409.0 454.3 413.0 466.0 407.0 C477.7 401.0 473.0 404.0 486.0 400.0 C499.0 396.0 492.0 398.3 505.0 395.0 C518.0 391.7 511.7 393.0 525.0 390.0 C538.3 387.0 536.0 382.0 545.0 386.0 C554.0 390.0 555.7 393.3 552.0 402.0 C548.3 410.7 546.0 404.7 534.0 412.0 C522.0 419.3 527.3 414.7 516.0 424.0 C504.7 433.3 510.7 429.3 500.0 440.0 C489.3 450.7 494.7 448.0 484.0 456.0 C473.3 464.0 477.7 462.7 468.0 464.0 C458.3 465.3 462.0 465.3 455.0 460.0 C448.0 454.7 450.0 456.7 447.0 448.0 C444.0 439.3 444.7 444.0 446.0 434.0Z" fill="#90f83a" fill-opacity="0.54"/><path d="M449.0 436.0 C449.0 424.3 449.0 428.3 456.0 420.0 C463.0 411.7 460.0 414.3 470.0 411.0 C480.0 407.7 479.3 405.0 486.0 410.0 C492.7 415.0 491.3 414.0 490.0 426.0 C488.7 438.0 489.3 435.3 482.0 446.0 C474.7 456.7 476.7 455.0 468.0 458.0 C459.3 461.0 462.3 462.3 456.0 455.0 C449.7 447.7 449.0 447.7 449.0 436.0Z" fill="#90f83a" fill-opacity="0.33"/><path d="M455.0 438.0 C456.0 430.0 456.0 430.7 463.0 426.0 C470.0 421.3 471.0 420.0 476.0 424.0 C481.0 428.0 480.0 429.3 478.0 438.0 C476.0 446.7 476.0 446.0 470.0 450.0 C464.0 454.0 465.0 454.0 460.0 450.0 C455.0 446.0 454.0 446.0 455.0 438.0Z" fill="#90f83a" fill-opacity="0.225"/><path d="M545.0 396.0 C550.7 385.7 544.3 392.3 560.0 389.0 C575.7 385.7 573.7 385.3 592.0 386.0 C610.3 386.7 601.3 384.7 615.0 391.0 C628.7 397.3 623.0 393.7 633.0 405.0 C643.0 416.3 637.3 411.3 645.0 425.0 C652.7 438.7 648.7 429.7 656.0 446.0 C663.3 462.3 661.7 456.7 667.0 474.0 C672.3 491.3 671.7 484.7 672.0 498.0 C672.3 511.3 675.3 505.3 668.0 514.0 C660.7 522.7 667.7 519.3 650.0 524.0 C632.3 528.7 635.7 529.0 615.0 528.0 C594.3 527.0 603.7 527.3 588.0 521.0 C572.3 514.7 579.7 521.3 568.0 509.0 C556.3 496.7 560.3 503.0 553.0 484.0 C545.7 465.0 549.3 473.3 546.0 452.0 C542.7 430.7 543.3 438.7 543.0 420.0 C542.7 401.3 539.3 406.3 545.0 396.0Z" fill="#90f83a" fill-opacity="0.705"/><path d="M558.0 405.0 C573.3 391.0 576.0 390.3 600.0 398.0 C624.0 405.7 612.7 400.7 630.0 428.0 C647.3 455.3 648.0 452.0 652.0 480.0 C656.0 508.0 659.3 500.7 642.0 512.0 C624.7 523.3 624.7 524.0 600.0 514.0 C575.3 504.0 583.3 506.7 568.0 482.0 C552.7 457.3 557.3 465.7 554.0 440.0 C550.7 414.3 542.7 419.0 558.0 405.0Z" fill="#90f83a" fill-opacity="0.18"/><path d="M799.0 352.0 C807.3 344.0 803.0 349.7 815.0 348.0 C827.0 346.3 820.7 345.0 835.0 347.0 C849.3 349.0 843.7 347.0 858.0 354.0 C872.3 361.0 866.3 359.0 878.0 368.0 C889.7 377.0 886.0 374.3 893.0 381.0 C900.0 387.7 900.0 379.0 899.0 388.0 C898.0 397.0 899.0 394.3 890.0 408.0 C881.0 421.7 884.3 415.7 872.0 429.0 C859.7 442.3 863.7 435.7 853.0 448.0 C842.3 460.3 846.7 455.3 840.0 466.0 C833.3 476.7 838.3 476.0 833.0 480.0 C827.7 484.0 831.0 483.0 824.0 478.0 C817.0 473.0 820.0 475.0 812.0 465.0 C804.0 455.0 807.0 461.3 800.0 448.0 C793.0 434.7 796.0 442.7 791.0 425.0 C786.0 407.3 785.3 412.7 785.0 395.0 C784.7 377.3 785.3 386.3 790.0 372.0 C794.7 357.7 790.7 360.0 799.0 352.0Z" fill="#90f83a" fill-opacity="0.72"/><path d="M795.0 405.0 C805.0 385.0 806.7 389.3 830.0 385.0 C853.3 380.7 857.7 376.3 865.0 392.0 C872.3 407.7 866.3 408.7 852.0 432.0 C837.7 455.3 839.3 457.7 822.0 462.0 C804.7 466.3 809.0 464.0 800.0 445.0 C791.0 426.0 785.0 425.0 795.0 405.0Z" fill="#90f83a" fill-opacity="0.24"/><path d="M940.0 321.0 C951.3 317.7 945.3 320.3 955.0 324.0 C964.7 327.7 960.3 324.0 969.0 332.0 C977.7 340.0 974.0 335.3 981.0 348.0 C988.0 360.7 986.0 356.0 990.0 370.0 C994.0 384.0 993.3 374.7 993.0 390.0 C992.7 405.3 994.0 398.3 989.0 416.0 C984.0 433.7 987.0 430.0 978.0 443.0 C969.0 456.0 972.3 450.3 962.0 455.0 C951.7 459.7 956.3 460.0 947.0 457.0 C937.7 454.0 942.3 455.3 934.0 446.0 C925.7 436.7 929.7 441.7 922.0 429.0 C914.3 416.3 918.3 421.7 911.0 408.0 C903.7 394.3 901.0 404.0 900.0 388.0 C899.0 372.0 901.0 378.0 908.0 360.0 C915.0 342.0 910.3 347.0 921.0 334.0 C931.7 321.0 928.7 324.3 940.0 321.0Z" fill="#90f83a" fill-opacity="0.465"/><path d="M945.0 328.0 C955.0 325.3 955.0 324.7 968.0 337.0 C981.0 349.3 977.3 345.7 984.0 365.0 C990.7 384.3 989.7 373.3 988.0 395.0 C986.3 416.7 989.0 411.7 979.0 430.0 C969.0 448.3 970.3 446.0 958.0 450.0 C945.7 454.0 949.7 455.3 942.0 442.0 C934.3 428.7 937.0 434.0 935.0 410.0 C933.0 386.0 935.0 391.7 936.0 370.0 C937.0 348.3 935.0 359.0 938.0 345.0 C941.0 331.0 935.0 330.7 945.0 328.0Z" fill="#90f83a" fill-opacity="0.51"/><path d="M884.0 376.0 C888.0 372.7 888.7 378.7 896.0 382.0 C903.3 385.3 903.3 381.3 906.0 386.0 C908.7 390.7 908.0 392.0 904.0 396.0 C900.0 400.0 900.7 399.3 894.0 398.0 C887.3 396.7 887.3 399.3 884.0 392.0 C880.7 384.7 880.0 379.3 884.0 376.0Z" fill="#90f83a" fill-opacity="0.375"/><path d="M884.0 362.0 C885.0 357.0 887.0 357.0 892.0 357.0 C897.0 357.0 897.3 357.0 899.0 362.0 C900.7 367.0 900.3 368.7 897.0 372.0 C893.7 375.3 893.3 375.3 889.0 372.0 C884.7 368.7 883.0 367.0 884.0 362.0Z" fill="#90f83a" fill-opacity="0.3"/><path d="M822.0 468.0 C832.7 463.3 830.0 464.0 838.0 468.0 C846.0 472.0 844.7 469.3 846.0 480.0 C847.3 490.7 845.3 486.0 842.0 500.0 C838.7 514.0 840.0 502.0 836.0 522.0 C832.0 542.0 833.3 537.3 830.0 560.0 C826.7 582.7 837.3 580.0 826.0 590.0 C814.7 600.0 806.7 600.0 796.0 590.0 C785.3 580.0 794.3 579.3 794.0 560.0 C793.7 540.7 793.0 550.3 795.0 532.0 C797.0 513.7 796.3 521.7 800.0 505.0 C803.7 488.3 798.7 494.3 806.0 482.0 C813.3 469.7 811.3 472.7 822.0 468.0Z" fill="#90f83a" fill-opacity="0.42"/><path d="M805.0 478.0 C811.0 467.7 812.3 465.0 816.0 474.0 C819.7 483.0 818.7 483.0 816.0 505.0 C813.3 527.0 812.3 513.3 808.0 540.0 C803.7 566.7 807.7 570.0 803.0 585.0 C798.3 600.0 797.0 600.0 794.0 585.0 C791.0 570.0 792.7 566.7 794.0 540.0 C795.3 513.3 794.3 525.7 798.0 505.0 C801.7 484.3 799.0 488.3 805.0 478.0Z" fill="#90f83a" fill-opacity="0.45"/><path d="M844.0 499.0 C844.7 492.0 845.3 495.0 852.0 492.0 C858.7 489.0 855.3 489.0 864.0 490.0 C872.7 491.0 870.0 489.0 878.0 495.0 C886.0 501.0 883.0 498.3 888.0 508.0 C893.0 517.7 892.3 513.3 893.0 524.0 C893.7 534.7 893.7 534.7 890.0 540.0 C886.3 545.3 885.3 544.3 882.0 540.0 C878.7 535.7 882.7 534.7 880.0 527.0 C877.3 519.3 880.0 521.7 874.0 517.0 C868.0 512.3 870.0 514.3 862.0 513.0 C854.0 511.7 856.0 517.7 850.0 513.0 C844.0 508.3 843.3 506.0 844.0 499.0Z" fill="#90f83a" fill-opacity="0.63"/><path d="M848.0 500.0 C848.7 495.7 850.7 496.3 858.0 495.0 C865.3 493.7 863.3 493.0 870.0 496.0 C876.7 499.0 878.7 500.0 878.0 504.0 C877.3 508.0 875.3 506.7 868.0 508.0 C860.7 509.3 862.7 510.7 856.0 508.0 C849.3 505.3 847.3 504.3 848.0 500.0Z" fill="#90f83a" fill-opacity="0.225"/><path d="M840.0 515.0 C850.0 501.0 848.0 513.0 860.0 518.0 C872.0 523.0 869.3 520.0 876.0 530.0 C882.7 540.0 881.3 531.3 880.0 548.0 C878.7 564.7 875.3 559.3 872.0 580.0 C868.7 600.7 882.3 600.0 870.0 610.0 C857.7 620.0 848.3 626.7 835.0 610.0 C821.7 593.3 828.3 591.7 830.0 560.0 C831.7 528.3 830.0 529.0 840.0 515.0Z" fill="#90f83a" fill-opacity="0.36"/><path d="M805.0 572.0 C813.0 563.0 813.0 563.7 832.0 568.0 C851.0 572.3 848.0 571.7 862.0 585.0 C876.0 598.3 872.0 591.0 874.0 608.0 C876.0 625.0 876.7 621.0 868.0 636.0 C859.3 651.0 861.3 643.7 848.0 653.0 C834.7 662.3 840.0 663.3 828.0 664.0 C816.0 664.7 815.3 669.7 812.0 655.0 C808.7 640.3 819.3 640.0 818.0 620.0 C816.7 600.0 812.3 611.0 808.0 595.0 C803.7 579.0 797.0 581.0 805.0 572.0Z" fill="#90f83a" fill-opacity="0.63"/></g><g filter="url(#spD)"><path d="M790.0 585.0 C788.3 551.7 791.7 573.3 800.0 560.0 C808.3 546.7 801.7 545.0 815.0 545.0 C828.3 545.0 828.3 541.7 840.0 560.0 C851.7 578.3 848.3 573.3 850.0 600.0 C851.7 626.7 853.3 618.3 845.0 640.0 C836.7 661.7 838.3 658.3 825.0 665.0 C811.7 671.7 816.7 686.7 805.0 660.0 C793.3 633.3 791.7 618.3 790.0 585.0Z" fill="#91fa3c" fill-opacity="0.22"/><path d="M786.0 590.0 C785.0 561.3 788.3 580.0 797.0 574.0 C805.7 568.0 802.3 566.7 812.0 572.0 C821.7 577.3 819.3 574.0 826.0 590.0 C832.7 606.0 831.3 600.0 832.0 620.0 C832.7 640.0 833.7 634.0 828.0 650.0 C822.3 666.0 824.3 664.7 815.0 668.0 C805.7 671.3 809.7 686.0 800.0 660.0 C790.3 634.0 787.0 618.7 786.0 590.0Z" fill="#91fa3c" fill-opacity="0.22"/><path d="M800.0 572.0 C806.0 563.0 807.0 563.7 822.0 568.0 C837.0 572.3 833.0 571.0 845.0 585.0 C857.0 599.0 855.7 593.0 858.0 610.0 C860.3 627.0 859.3 621.3 852.0 636.0 C844.7 650.7 847.3 644.7 836.0 654.0 C824.7 663.3 828.0 665.3 818.0 664.0 C808.0 662.7 808.0 664.7 806.0 650.0 C804.0 635.3 812.7 638.3 812.0 620.0 C811.3 601.7 808.0 611.0 804.0 595.0 C800.0 579.0 794.0 581.0 800.0 572.0Z" fill="#91fa3c" fill-opacity="0.26"/><path d="M672.0 612.0 C672.7 599.7 669.3 601.3 676.0 603.0 C682.7 604.7 679.0 609.0 692.0 617.0 C705.0 625.0 700.3 621.0 715.0 627.0 C729.7 633.0 723.7 632.0 736.0 635.0 C748.3 638.0 747.3 627.7 752.0 636.0 C756.7 644.3 750.0 642.0 750.0 660.0 C750.0 678.0 752.7 671.3 752.0 690.0 C751.3 708.7 755.7 704.3 748.0 716.0 C740.3 727.7 742.3 725.0 729.0 725.0 C715.7 725.0 720.7 726.0 708.0 716.0 C695.3 706.0 698.7 710.7 691.0 695.0 C683.3 679.3 690.7 687.3 685.0 669.0 C679.3 650.7 678.3 659.0 674.0 640.0 C669.7 621.0 671.3 624.3 672.0 612.0Z" fill="#91fa3c" fill-opacity="0.7"/><path d="M690.0 632.0 C695.3 627.3 693.3 631.3 704.0 634.0 C714.7 636.7 709.3 636.0 722.0 640.0 C734.7 644.0 734.3 637.7 742.0 646.0 C749.7 654.3 744.0 650.3 745.0 665.0 C746.0 679.7 746.7 674.3 745.0 690.0 C743.3 705.7 745.7 702.3 740.0 712.0 C734.3 721.7 737.3 719.3 728.0 719.0 C718.7 718.7 722.0 720.0 712.0 711.0 C702.0 702.0 704.3 706.3 698.0 692.0 C691.7 677.7 696.3 682.7 693.0 668.0 C689.7 653.3 689.0 660.0 688.0 648.0 C687.0 636.0 684.7 636.7 690.0 632.0Z" fill="#91fa3c" fill-opacity="1.0"/><path d="M746.0 640.0 C751.0 624.7 756.7 627.3 764.0 634.0 C771.3 640.7 766.0 638.7 768.0 660.0 C770.0 681.3 776.0 680.0 770.0 698.0 C764.0 716.0 757.0 720.0 750.0 714.0 C743.0 708.0 750.3 704.7 749.0 680.0 C747.7 655.3 741.0 655.3 746.0 640.0Z" fill="#91fa3c" fill-opacity="0.5"/><path d="M765.0 633.0 C768.3 617.7 772.0 628.0 778.0 619.0 C784.0 610.0 779.7 615.3 783.0 606.0 C786.3 596.7 783.3 599.3 788.0 591.0 C792.7 582.7 790.3 583.7 797.0 581.0 C803.7 578.3 801.0 576.7 808.0 583.0 C815.0 589.3 812.7 586.0 818.0 600.0 C823.3 614.0 822.7 608.3 824.0 625.0 C825.3 641.7 824.7 634.3 822.0 650.0 C819.3 665.7 821.0 660.3 816.0 672.0 C811.0 683.7 814.7 677.7 807.0 685.0 C799.3 692.3 805.0 689.3 793.0 694.0 C781.0 698.7 779.3 708.7 771.0 699.0 C762.7 689.3 770.0 687.0 768.0 665.0 C766.0 643.0 761.7 648.3 765.0 633.0Z" fill="#91fa3c" fill-opacity="0.52"/><path d="M770.0 638.0 C771.0 622.0 772.7 632.0 776.0 620.0 C779.3 608.0 777.0 609.3 780.0 602.0 C783.0 594.7 781.0 594.7 785.0 598.0 C789.0 601.3 787.0 600.0 792.0 612.0 C797.0 624.0 794.7 619.3 800.0 634.0 C805.3 648.7 803.3 642.0 808.0 656.0 C812.7 670.0 814.7 666.0 814.0 676.0 C813.3 686.0 813.0 680.3 806.0 686.0 C799.0 691.7 802.3 690.3 793.0 693.0 C783.7 695.7 784.7 702.3 778.0 694.0 C771.3 685.7 775.7 686.7 773.0 668.0 C770.3 649.3 769.0 654.0 770.0 638.0Z" fill="#91fa3c" fill-opacity="1.0"/></g><g filter="url(#spB)"><path d="M732.0 150.0 C731.3 140.7 730.7 144.3 735.0 137.0 C739.3 129.7 737.3 132.0 745.0 128.0 C752.7 124.0 749.3 124.3 758.0 125.0 C766.7 125.7 763.3 124.7 771.0 130.0 C778.7 135.3 776.7 132.3 781.0 141.0 C785.3 149.7 785.0 147.0 784.0 156.0 C783.0 165.0 784.7 162.0 778.0 168.0 C771.3 174.0 774.3 172.3 764.0 174.0 C753.7 175.7 756.0 176.0 747.0 173.0 C738.0 170.0 742.0 172.7 737.0 165.0 C732.0 157.3 732.7 159.3 732.0 150.0Z" fill="url(#bg)" fill-opacity="0.754"/><path d="M738.0 140.0 C742.0 131.3 740.0 132.7 750.0 130.0 C760.0 127.3 758.7 126.0 768.0 132.0 C777.3 138.0 777.3 136.7 778.0 148.0 C778.7 159.3 779.3 159.3 770.0 166.0 C760.7 172.7 760.7 171.3 750.0 168.0 C739.3 164.7 742.0 165.3 738.0 156.0 C734.0 146.7 734.0 148.7 738.0 140.0Z" fill="url(#bg)" fill-opacity="0.26"/><path d="M740.0 175.0 C754.7 167.7 767.3 167.0 782.0 174.0 C796.7 181.0 798.7 188.7 784.0 196.0 C769.3 203.3 752.7 203.0 738.0 196.0 C723.3 189.0 725.3 182.3 740.0 175.0Z" fill="url(#bg)" fill-opacity="0.429"/><path d="M733.0 205.0 C738.7 194.3 734.3 197.0 745.0 192.0 C755.7 187.0 753.7 188.0 765.0 190.0 C776.3 192.0 773.7 188.7 779.0 198.0 C784.3 207.3 781.7 204.7 781.0 218.0 C780.3 231.3 782.0 227.3 777.0 238.0 C772.0 248.7 774.3 243.3 766.0 250.0 C757.7 256.7 759.3 253.0 752.0 258.0 C744.7 263.0 749.3 265.0 744.0 265.0 C738.7 265.0 741.0 265.7 736.0 258.0 C731.0 250.3 731.7 253.3 729.0 242.0 C726.3 230.7 726.7 236.3 728.0 224.0 C729.3 211.7 727.3 215.7 733.0 205.0Z" fill="url(#bg)" fill-opacity="0.715"/></g><path d="M692.5 315.5 L697 320 L702.5 327.5 L703 329.5 L698 326 L693 319.5Z" fill="#58e42c" fill-opacity="0.62"/><path d="M583 314.5 Q588 312.6 594 312.6" stroke="#90f83a" stroke-opacity=".5" stroke-width="0.8" fill="none"/><path d="M885 106.5 L892 113 L899 120.5" stroke="#1fd6a8" stroke-width="0.8" stroke-opacity="0.85" fill="none"/></svg>
<div class="btn" style="left:8px;top:8px;width:101px;height:30px"></div>
<svg class="abs" style="left:17px;top:15px" width="18" height="18" viewBox="0 0 16 16"><g stroke="#5c7080" stroke-width="2" stroke-linecap="round"><path d="M8 7.2 L3 3.4 M8 7.2 L13.2 4.6 M8 7.2 L6.3 13"/></g><g fill="#5c7080"><circle cx="8" cy="7.2" r="2.6"/><circle cx="3" cy="3.3" r="1.9"/><circle cx="13.3" cy="4.5" r="1.9"/><circle cx="6.2" cy="13.2" r="1.9"/></g></svg>
<div class="abs" style="left:41px;top:14px;line-height:18px;font-size:14px">umap</div>
<svg class="abs" style="left:86px;top:20px" width="10" height="6"><path d="M0.5 0.5h8.5l-4.25 5z" fill="#5c7080"/></svg>
<div class="abs" style="left:8px;top:43px;line-height:18px;font-size:14px;color:#777">6497 of 1058909 cells</div>
<div class="btn" style="left:221px;top:8px;width:83px;height:30px;border-radius:3px 0 0 3px"></div>
<div class="btn" style="left:303px;top:8px;width:82px;height:30px;border-radius:0"></div>
<div class="abs" style="left:221px;top:14px;width:83px;text-align:center;line-height:18px">6176 cells</div>
<div class="abs" style="left:303px;top:14px;width:82px;text-align:center;line-height:18px">6497 cells</div>
<div class="abs" style="left:384px;top:8px;width:30px;height:30px;border-radius:0 3px 3px 0;background:#137cbd;box-shadow:inset 0 0 0 1px rgba(16,22,26,.35)"></div>
<svg class="abs" style="left:392.5px;top:15px" width="16" height="16" viewBox="0 0 16 16"><ellipse cx="5.2" cy="7.7" rx="5" ry="5.6" fill="#fff"/><ellipse cx="10.2" cy="7.7" rx="4.5" ry="5.1" fill="#fff" fill-opacity=".25" stroke="#fff" stroke-width="1.1"/><path d="M7.9 3 A5 5.6 0 0 1 7.9 12.4 A4.5 5.1 0 0 1 7.9 3Z" fill="#137cbd" stroke="#fff" stroke-width="1"/></svg>
<div class="btn" style="left:422px;top:8px;width:30px;height:30px;border-radius:3px 0 0 3px"></div>
<div class="abs" style="left:451px;top:8px;width:30px;height:30px;border-radius:0 3px 3px 0;background:#e7ebee"></div>
<svg class="abs" style="left:429.8px;top:14.3px" width="16" height="16" viewBox="0 0 16 16"><path d="M7 9 V2.4 A6.6 6.6 0 1 0 13.6 9 Z" fill="#5c7080"/><path d="M8.5 7.5 V0.9 A6.6 6.6 0 0 1 15.1 7.5 Z" fill="#5c7080"/></svg>
<div class="abs" style="left:458px;top:15px;width:16px;height:16px;border-radius:8px;background:#8a9ba8"></div>
<div class="abs" style="left:489px;top:8px;width:30px;height:30px;border-radius:3px 0 0 3px;background:#d8e1e8;border:1px solid #bcc6ce"></div>
<div class="btn" style="left:518px;top:8px;width:30px;height:30px;border-radius:0 3px 3px 0"></div>
<svg class="abs" style="left:495px;top:14px" width="18" height="18" viewBox="0 0 18 18"><path d="M8.8 2.6 L15.3 8.3 L12 15.2 L2.8 15.2 L2.2 7.2 Z" fill="none" stroke="#5c7080" stroke-width="2" stroke-linejoin="round"/><g fill="#5c7080"><circle cx="8.8" cy="2.4" r="1.8"/><circle cx="15.5" cy="8.3" r="1.8"/><circle cx="12" cy="15.4" r="1.8"/><circle cx="2.6" cy="15.4" r="1.8"/><circle cx="2" cy="7.1" r="1.8"/></g></svg>
<svg class="abs" style="left:525px;top:14px" width="18" height="18" viewBox="0 0 18 18"><circle cx="7.5" cy="7.6" r="5.8" fill="none" stroke="#5c7080" stroke-width="2.1"/><path d="M12 12 L15.6 15.6" stroke="#5c7080" stroke-width="2.8" stroke-linecap="round"/><path d="M4.3 7.6h6.4M7.5 4.4v6.4" stroke="#5c7080" stroke-width="1.9"/></svg>
<div class="abs" style="left:556px;top:8px;width:30px;height:30px;border-radius:3px;background:#e7ebee"></div>
<svg class="abs" style="left:563px;top:15px" width="16" height="16" viewBox="0 0 16 16" fill="#9aa8b4"><circle cx="2.9" cy="2.1" r="1.9"/><circle cx="2.9" cy="8.1" r="2.2"/><circle cx="2.9" cy="14" r="1.9"/><rect x="6" y="1" width="10" height="2.2" rx="1"/><rect x="6" y="6.4" width="10" height="3.4" rx="1"/><rect x="6" y="12.9" width="10" height="2.2" rx="1"/></svg>
<div class="btn" style="left:594px;top:8px;width:30px;height:30px"></div>
<svg class="abs" style="left:601px;top:15px" width="17" height="16" viewBox="0 0 17 16" fill="#5c7080"><rect x="2.2" y="5.7" width="3" height="6" rx=".7"/><rect x="7.4" y="1" width="3" height="10.7" rx=".7"/><rect x="12.6" y="4" width="3" height="7.7" rx=".7"/><rect x="1" y="12.9" width="15" height="1.9" rx=".6"/></svg>
<div class="btn" style="left:632px;top:8px;width:30px;height:30px"></div>
<svg class="abs" style="left:639px;top:15px" width="16" height="16" viewBox="0 0 16 16"><path d="M1 4h2.6l1.4-2.9h6l1.4 2.9H15a.9.9 0 0 1 .9.9v7.9a.9.9 0 0 1-.9.9H1a.9.9 0 0 1-.9-.9V4.9A.9.9 0 0 1 1 4Z M8 4.8a3.8 3.8 0 1 0 0 7.600a3.8 3.8 0 0 0 0-7.600Z M8 6.600a2 2 0 1 1 0 4a2 2 0 0 1 0-4Z M1.400 5.200h2.200v1h-2.200z" fill="#5c7080" fill-rule="evenodd"/></svg>
<div class="btn" style="left:670px;top:8px;width:30px;height:30px"></div>
<svg class="abs" style="left:677px;top:15px" width="16" height="16" viewBox="0 0 16 16"><circle cx="8" cy="8" r="8" fill="#5c7080"/><rect x="6.9" y="6.6" width="2.3" height="5.6" fill="#fff"/><rect x="5.9" y="6.6" width="2" height="1.2" fill="#fff"/><rect x="5.7" y="11.2" width="4.7" height="1.2" fill="#fff"/><circle cx="8" cy="4.2" r="1.4" fill="#fff"/></svg>
<svg class="abs" style="left:8px;top:62px" width="60" height="190" viewBox="0 0 60 190"><defs><linearGradient id="cb" x1="0" y1="0" x2="0" y2="1"><stop offset="0" stop-color="#7a25b4"/><stop offset="0.1" stop-color="#6a42c6"/><stop offset="0.2" stop-color="#5865da"/><stop offset="0.28" stop-color="#3e84e2"/><stop offset="0.34" stop-color="#1f9ce2"/><stop offset="0.43" stop-color="#18b6cc"/><stop offset="0.52" stop-color="#16d0a6"/><stop offset="0.6" stop-color="#16e288"/><stop offset="0.69" stop-color="#1aef62"/><stop offset="0.8" stop-color="#24f546"/><stop offset="0.87" stop-color="#44f53a"/><stop offset="0.91" stop-color="#7cf53c"/><stop offset="1.0" stop-color="#a8f53e"/></linearGradient></defs><rect x="3" y="4" width="18" height="179" fill="url(#cb)"/><path d="M25.5 4.5h-4v178.5h4" fill="none" stroke="#000" stroke-width="1"/><g stroke="#000" stroke-width="1"><path d="M21.5 40.5h4M21.5 75.5h4M21.5 111.5h4M21.5 147.5h4"/></g><g font-family="Liberation Sans, Arial, sans-serif" font-size="14" fill="#000"><text x="30" y="45">4</text><text x="30" y="80">3</text><text x="30" y="116">2</text><text x="30" y="152">1</text><text x="30" y="188">0</text></g><text transform="translate(16.2 92.6) rotate(-90)" text-anchor="middle" textLength="43.4" lengthAdjust="spacingAndGlyphs" font-family="Liberation Sans, Arial, sans-serif" font-size="15" fill="#fff">CD79A</text></svg>
<div class="abs" style="left:16px;top:685px;line-height:18px;font-size:14px;color:#5c7080;white-space:nowrap;letter-spacing:-.17px">Asian Immune Diversity Atlas (AIDA)</div>
<svg class="abs" style="left:244.5px;top:687.5px" width="9" height="12.4" viewBox="-2 -2 9 12.4"><path d="M0 0 L4.4 4.2 L0 8.4" fill="none" stroke="#5c7080" stroke-width="1.9" stroke-linecap="round" stroke-linejoin="round"/></svg>
<div class="abs" style="left:263px;top:685px;line-height:18px;font-size:14px;color:#5c7080;white-space:nowrap;letter-spacing:-.1px">AIDA Phase 1 Data Freeze v1: …</div>
<div class="abs" style="left:auto;right:26.5px;top:685px;line-height:18px;font-size:14px;color:#5c7080;white-space:nowrap;letter-spacing:-.1px"><span style="display:inline-block;overflow:hidden;direction:rtl;width:211px;height:18px;vertical-align:top"><span style="direction:ltr;display:inline-block">Japan, Singapore, and South Korea</span></span></div>
</div>
<div id="right"><div class="abs" style="left:1px;top:0;width:365px;height:717px">
<div class="h1" style="left:9px;top:10px;font-size:18px;line-height:22px">Genes</div>
<svg class="abs" style="left:69.5px;top:17.5px" width="12.6" height="8.8" viewBox="-2 -2 12.6 8.8"><path d="M0 0 L4.3 4.8 L8.6 0" fill="none" stroke="#10161a" stroke-width="1.8" stroke-linecap="round" stroke-linejoin="round"/></svg>
<div class="abs" style="left:9px;top:41px;width:345px;height:30px;border:1px solid #c9ced3;border-radius:3px;background:#fff;box-shadow:inset 0 1px 1px rgba(16,22,26,.12)"></div>
<svg class="abs" style="left:15px;top:47px" width="18" height="18" viewBox="0 0 18 18"><circle cx="7.8" cy="7.8" r="5.6" fill="none" stroke="#5c7080" stroke-width="1.8"/><path d="M12 12 L16 16" stroke="#5c7080" stroke-width="2.4" stroke-linecap="round"/></svg>
<div class="abs" style="left:39px;top:47px;line-height:18px;font-size:14px;color:#8f9ba5;letter-spacing:-.15px">Quick Gene Search</div>
<div class="h1" style="left:9px;top:95px;font-size:18px;line-height:22px">Gene Sets</div>
<svg class="abs" style="left:103px;top:102.5px" width="12.6" height="8.8" viewBox="-2 -2 12.6 8.8"><path d="M0 0 L4.3 4.8 L8.6 0" fill="none" stroke="#10161a" stroke-width="1.8" stroke-linecap="round" stroke-linejoin="round"/></svg>
<div class="abs" style="left:264px;top:93px;width:90px;height:30px;border-radius:3px;background:#137cbd;box-shadow:inset 0 0 0 1px rgba(16,22,26,.3);color:#fff;text-align:center;line-height:30px;font-size:14px">Create new</div>
<div class="abs" style="left:9px;top:140px;line-height:18px;font-size:14px;white-space:nowrap;letter-spacing:-.07px">Pop1 high (10/08/2024, 05:58:43)</div>
<svg class="abs" style="left:219.5px;top:144.3px" width="11.6" height="8.4" viewBox="-2 -2 11.6 8.4"><path d="M0 0 L3.8 4.4 L7.6 0" fill="none" stroke="#10161a" stroke-width="1.5" stroke-linecap="round" stroke-linejoin="round"/></svg>
<svg class="abs" style="left:275px;top:144px" width="12" height="12"><path d="M6 2.5v7M2.5 6h7" stroke="#5c7080" stroke-width="1.2"/></svg>
<svg class="abs" style="left:301px;top:144px" width="12" height="12"><g fill="#5c7080"><circle cx="2.5" cy="6" r="1.1"/><circle cx="6" cy="6" r="1.1"/><circle cx="9.5" cy="6" r="1.1"/></g></svg>
<div class="btn" style="left:324px;top:135px;width:30px;height:30px"></div>
<svg class="abs" style="left:331px;top:142px" width="16" height="16" viewBox="0 0 16 16"><path d="M8 1 C8 1 3 7 3 9.8 A5 4.9 0 0 0 13 9.8 C13 7 8 1 8 1 Z" fill="#5c7080"/></svg>
<svg class="abs" style="left:0;top:180px" width="365" height="160" viewBox="0 0 365 160"><rect x="39.80" y="108.78" width="7.65" height="4.73" fill="#bdbdbd"/><rect x="46.85" y="103.38" width="7.65" height="10.12" fill="#bdbdbd"/><rect x="53.90" y="83.12" width="7.65" height="30.38" fill="#bdbdbd"/><rect x="60.95" y="35.88" width="7.65" height="77.62" fill="#bdbdbd"/><rect x="68.00" y="6.85" width="7.65" height="106.65" fill="#bdbdbd"/><rect x="75.05" y="13.60" width="7.65" height="99.90" fill="#bdbdbd"/><rect x="82.10" y="56.12" width="7.65" height="57.38" fill="#bdbdbd"/><rect x="89.15" y="76.38" width="7.65" height="37.12" fill="#bdbdbd"/><rect x="96.20" y="88.53" width="7.65" height="24.98" fill="#bdbdbd"/><rect x="103.25" y="92.58" width="7.65" height="20.93" fill="#bdbdbd"/><rect x="110.30" y="92.58" width="7.65" height="20.93" fill="#bdbdbd"/><rect x="117.35" y="93.92" width="7.65" height="19.57" fill="#bdbdbd"/><rect x="124.40" y="95.28" width="7.65" height="18.23" fill="#bdbdbd"/><rect x="131.45" y="96.62" width="7.65" height="16.88" fill="#bdbdbd"/><rect x="138.50" y="97.97" width="7.65" height="15.53" fill="#bdbdbd"/><rect x="145.55" y="100.00" width="7.65" height="13.50" fill="#bdbdbd"/><rect x="152.60" y="102.70" width="7.65" height="10.80" fill="#bdbdbd"/><rect x="159.65" y="104.72" width="7.65" height="8.78" fill="#bdbdbd"/><rect x="166.70" y="106.75" width="7.65" height="6.75" fill="#bdbdbd"/><rect x="173.75" y="108.78" width="7.65" height="4.73" fill="#bdbdbd"/><rect x="180.80" y="110.46" width="7.65" height="3.04" fill="#bdbdbd"/><rect x="187.85" y="111.47" width="7.65" height="2.02" fill="#bdbdbd"/><rect x="194.90" y="111.81" width="7.65" height="1.69" fill="#bdbdbd"/><rect x="201.95" y="111.81" width="7.65" height="1.69" fill="#bdbdbd"/><rect x="209.00" y="111.47" width="7.65" height="2.02" fill="#bdbdbd"/><rect x="216.05" y="110.80" width="7.65" height="2.70" fill="#bdbdbd"/><rect x="223.10" y="109.79" width="7.65" height="3.71" fill="#bdbdbd"/><rect x="230.15" y="108.44" width="7.65" height="5.06" fill="#bdbdbd"/><rect x="237.20" y="107.09" width="7.65" height="6.41" fill="#bdbdbd"/><rect x="244.25" y="106.41" width="7.65" height="7.09" fill="#bdbdbd"/><rect x="251.30" y="106.08" width="7.65" height="7.42" fill="#bdbdbd"/><rect x="258.35" y="107.09" width="7.65" height="6.41" fill="#bdbdbd"/><rect x="265.40" y="108.78" width="7.65" height="4.73" fill="#bdbdbd"/><rect x="272.45" y="110.80" width="7.65" height="2.70" fill="#bdbdbd"/><rect x="279.50" y="112.15" width="7.65" height="1.35" fill="#bdbdbd"/><rect x="286.55" y="112.96" width="7.65" height="0.54" fill="#bdbdbd"/><rect x="293.60" y="113.23" width="7.65" height="0.27" fill="#bdbdbd"/><rect x="300.65" y="113.36" width="7.65" height="0.14" fill="#bdbdbd"/><path d="M39.8 114.0H316.5" stroke="#d0d0d0" stroke-width="1" fill="none"/><path d="M40.5 113.5 v4 M116.5 113.5 v4 M192.5 113.5 v4 M268.5 113.5 v4" stroke="#c8c8c8" stroke-width="1"/><path d="M321.5 5.5h-5v108h5" fill="none" stroke="#d8d8d8" stroke-width="1"/><path d="M316.5 18.5h5M316.5 50.5h5M316.5 81.5h5" stroke="#d8d8d8"/><g font-family="Liberation Sans, Arial, sans-serif" font-size="14" fill="#333"><text x="324.3" y="23">2e+5</text><text x="324.3" y="55">1e+5</text><text x="324.3" y="86">5e+4</text><text x="324.3" y="118">0e+0</text><text x="36" y="132">0</text><text x="112" y="132">1</text><text x="188" y="132">2</text><text x="264" y="132">3</text></g><g font-family="Liberation Sans, Arial, sans-serif" font-size="14"><text x="19" y="149" fill="#bfbfbf">min 0.000</text><text x="98.5" y="149" fill="#222" font-style="italic" letter-spacing="-0.15">gene set mean expression</text><text x="279" y="149" fill="#bfbfbf">max 3.632</text></g></svg>
<div class="grow" style="top:342px">
<div class="glab">CD79A</div>
<svg class="abs" style="left:87px;top:7.5px" width="14" height="14" viewBox="0 0 14 14"><circle cx="7" cy="7" r="5.2" fill="none" stroke="#6b6f73" stroke-width="1.1"/><rect x="6.4" y="6.2" width="1.3" height="3.4" fill="#6b6f73"/><rect x="6.4" y="4.1" width="1.3" height="1.3" fill="#6b6f73"/></svg>
<svg class="abs" style="left:114px;top:2px" width="110" height="20" viewBox="0 0 110 20"><rect x="1" y="2.0" width="3" height="14.4" fill="#a6f23c"/><rect x="14" y="15.6" width="70" height="0.6" fill="#d9f7f0"/></svg>
<svg class="abs" style="left:232.6px;top:9.9px" width="10.8" height="10.8" viewBox="0 0 12 12"><path d="M4.2 0.6h3.6v1H11v1.3H1V1.6h3.2z" fill="#6d8296"/><path d="M1.8 3.6h8.4v7a1 1 0 0 1-1 1H2.8a1 1 0 0 1-1-1z M3.6 5v5h1V5z M5.6 5v5h1V5z M7.6 5v5h0.8V5z" fill="#6d8296" fill-rule="evenodd"/></svg>
<div class="xy" style="left:260px">x</div>
<div class="xy" style="left:286px">y</div>
<svg class="abs" style="left:310px;top:9px" width="12" height="12" viewBox="0 0 12 12" fill="none" stroke="#5c7080" stroke-width="1.4"><path d="M6.8 5.2 L10.6 1.4 M7.4 1.2h3.4v3.4 M5.2 6.8 L1.4 10.6 M1.2 7.4v3.4h3.4"/></svg>
<div class="abs" style="left:330px;top:3px;width:24px;height:24px;border-radius:3px;background:#b9d6ec"></div>
<svg class="abs" style="left:335.9px;top:8.9px" width="12.2" height="12.2" viewBox="0 0 16 16"><path d="M8 1 C8 1 3 7 3 9.8 A5 4.9 0 0 0 13 9.8 C13 7 8 1 8 1 Z" fill="#106ba3"/></svg>
</div>
<div class="grow" style="top:368px">
<div class="glab">H…</div>
<div class="glab" style="left:auto;right:289px"><span><span style="display:inline-block;margin-left:-0px">-DRA</span></span></div>
<svg class="abs" style="left:87px;top:7.5px" width="14" height="14" viewBox="0 0 14 14"><circle cx="7" cy="7" r="5.2" fill="none" stroke="#6b6f73" stroke-width="1.1"/><rect x="6.4" y="6.2" width="1.3" height="3.4" fill="#6b6f73"/><rect x="6.4" y="4.1" width="1.3" height="1.3" fill="#6b6f73"/></svg>
<svg class="abs" style="left:114px;top:2px" width="110" height="20" viewBox="0 0 110 20"><rect x="1" y="2.0" width="3" height="14.4" fill="#000"/><rect x="16" y="15.4" width="64" height="0.9" fill="#555"/><rect x="80" y="15.5" width="20" height="0.6" fill="#ccc"/></svg>
<svg class="abs" style="left:232.6px;top:9.9px" width="10.8" height="10.8" viewBox="0 0 12 12"><path d="M4.2 0.6h3.6v1H11v1.3H1V1.6h3.2z" fill="#6d8296"/><path d="M1.8 3.6h8.4v7a1 1 0 0 1-1 1H2.8a1 1 0 0 1-1-1z M3.6 5v5h1V5z M5.6 5v5h1V5z M7.6 5v5h0.8V5z" fill="#6d8296" fill-rule="evenodd"/></svg>
<div class="xy" style="left:260px">x</div>
<div class="xy" style="left:286px">y</div>
<svg class="abs" style="left:310px;top:9px" width="12" height="12" viewBox="0 0 12 12" fill="none" stroke="#5c7080" stroke-width="1.4"><path d="M6.8 5.2 L10.6 1.4 M7.4 1.2h3.4v3.4 M5.2 6.8 L1.4 10.6 M1.2 7.4v3.4h3.4"/></svg>
<svg class="abs" style="left:335.9px;top:8.9px" width="12.2" height="12.2" viewBox="0 0 16 16"><path d="M8 1 C8 1 3 7 3 9.8 A5 4.9 0 0 0 13 9.8 C13 7 8 1 8 1 Z" fill="#5c7080"/></svg>
</div>
<div class="grow" style="top:394px">
<div class="glab">MS4A1</div>
<svg class="abs" style="left:87px;top:7.5px" width="14" height="14" viewBox="0 0 14 14"><circle cx="7" cy="7" r="5.2" fill="none" stroke="#6b6f73" stroke-width="1.1"/><rect x="6.4" y="6.2" width="1.3" height="3.4" fill="#6b6f73"/><rect x="6.4" y="4.1" width="1.3" height="1.3" fill="#6b6f73"/></svg>
<svg class="abs" style="left:114px;top:2px" width="110" height="20" viewBox="0 0 110 20"><rect x="1" y="2.0" width="3" height="14.4" fill="#000"/><rect x="14" y="15.6" width="70" height="0.6" fill="#e4e4e4"/></svg>
<svg class="abs" style="left:232.6px;top:9.9px" width="10.8" height="10.8" viewBox="0 0 12 12"><path d="M4.2 0.6h3.6v1H11v1.3H1V1.6h3.2z" fill="#6d8296"/><path d="M1.8 3.6h8.4v7a1 1 0 0 1-1 1H2.8a1 1 0 0 1-1-1z M3.6 5v5h1V5z M5.6 5v5h1V5z M7.6 5v5h0.8V5z" fill="#6d8296" fill-rule="evenodd"/></svg>
<div class="xy" style="left:260px">x</div>
<div class="xy" style="left:286px">y</div>
<svg class="abs" style="left:310px;top:9px" width="12" height="12" viewBox="0 0 12 12" fill="none" stroke="#5c7080" stroke-width="1.4"><path d="M6.8 5.2 L10.6 1.4 M7.4 1.2h3.4v3.4 M5.2 6.8 L1.4 10.6 M1.2 7.4v3.4h3.4"/></svg>
<svg class="abs" style="left:335.9px;top:8.9px" width="12.2" height="12.2" viewBox="0 0 16 16"><path d="M8 1 C8 1 3 7 3 9.8 A5 4.9 0 0 0 13 9.8 C13 7 8 1 8 1 Z" fill="#5c7080"/></svg>
</div>
<div class="grow" style="top:420px">
<div class="glab">CD74</div>
<svg class="abs" style="left:87px;top:7.5px" width="14" height="14" viewBox="0 0 14 14"><circle cx="7" cy="7" r="5.2" fill="none" stroke="#6b6f73" stroke-width="1.1"/><rect x="6.4" y="6.2" width="1.3" height="3.4" fill="#6b6f73"/><rect x="6.4" y="4.1" width="1.3" height="1.3" fill="#6b6f73"/></svg>
<svg class="abs" style="left:114px;top:2px" width="110" height="20" viewBox="0 0 110 20"><rect x="1" y="2.0" width="3" height="14.4" fill="#000"/><rect x="12.30" y="15.6" width="2.25" height="0.8" fill="#000"/><rect x="14.72" y="9.8" width="2.25" height="6.6" fill="#000"/><rect x="17.14" y="10.6" width="2.25" height="5.8" fill="#000"/><rect x="19.56" y="10.1" width="2.25" height="6.3" fill="#000"/><rect x="21.98" y="9.7" width="2.25" height="6.7" fill="#000"/><rect x="24.40" y="9.5" width="2.25" height="6.9" fill="#000"/><rect x="26.82" y="9.4" width="2.25" height="7.0" fill="#000"/><rect x="29.24" y="9.5" width="2.25" height="6.9" fill="#000"/><rect x="31.66" y="10.2" width="2.25" height="6.2" fill="#000"/><rect x="34.08" y="10.6" width="2.25" height="5.8" fill="#000"/><rect x="36.50" y="11.2" width="2.25" height="5.2" fill="#000"/><rect x="38.92" y="11.6" width="2.25" height="4.8" fill="#000"/><rect x="41.34" y="12.0" width="2.25" height="4.4" fill="#000"/><rect x="43.76" y="12.2" width="2.25" height="4.2" fill="#000"/><rect x="46.18" y="12.4" width="2.25" height="4.0" fill="#000"/><rect x="48.60" y="12.5" width="2.25" height="3.9" fill="#000"/><rect x="51.02" y="12.3" width="2.25" height="4.1" fill="#000"/><rect x="53.44" y="12.1" width="2.25" height="4.3" fill="#000"/><rect x="55.86" y="11.9" width="2.25" height="4.5" fill="#000"/><rect x="58.28" y="11.8" width="2.25" height="4.6" fill="#000"/><rect x="60.70" y="11.7" width="2.25" height="4.7" fill="#000"/><rect x="63.12" y="11.9" width="2.25" height="4.5" fill="#000"/><rect x="65.54" y="12.4" width="2.25" height="4.0" fill="#000"/><rect x="67.96" y="13.0" width="2.25" height="3.4" fill="#000"/><rect x="70.38" y="13.8" width="2.25" height="2.6" fill="#000"/><rect x="72.80" y="14.6" width="2.25" height="1.8" fill="#000"/><rect x="75.22" y="15.2" width="2.25" height="1.2" fill="#000"/><rect x="77.64" y="15.5" width="2.25" height="0.9" fill="#000"/><rect x="80.06" y="15.4" width="2.25" height="1.0" fill="#000"/><rect x="82.48" y="14.8" width="2.25" height="1.6" fill="#000"/><rect x="84.90" y="14.1" width="2.25" height="2.3" fill="#000"/><rect x="87.32" y="14.0" width="2.25" height="2.4" fill="#000"/><rect x="89.74" y="14.8" width="2.25" height="1.6" fill="#000"/><rect x="92.16" y="15.7" width="2.25" height="0.7" fill="#000"/><rect x="94.58" y="16.1" width="2.25" height="0.3" fill="#000"/></svg>
<svg class="abs" style="left:232.6px;top:9.9px" width="10.8" height="10.8" viewBox="0 0 12 12"><path d="M4.2 0.6h3.6v1H11v1.3H1V1.6h3.2z" fill="#6d8296"/><path d="M1.8 3.6h8.4v7a1 1 0 0 1-1 1H2.8a1 1 0 0 1-1-1z M3.6 5v5h1V5z M5.6 5v5h1V5z M7.6 5v5h0.8V5z" fill="#6d8296" fill-rule="evenodd"/></svg>
<div class="xy" style="left:260px">x</div>
<div class="xy" style="left:286px">y</div>
<svg class="abs" style="left:310px;top:9px" width="12" height="12" viewBox="0 0 12 12" fill="none" stroke="#5c7080" stroke-width="1.4"><path d="M6.8 5.2 L10.6 1.4 M7.4 1.2h3.4v3.4 M5.2 6.8 L1.4 10.6 M1.2 7.4v3.4h3.4"/></svg>
<svg class="abs" style="left:335.9px;top:8.9px" width="12.2" height="12.2" viewBox="0 0 16 16"><path d="M8 1 C8 1 3 7 3 9.8 A5 4.9 0 0 0 13 9.8 C13 7 8 1 8 1 Z" fill="#5c7080"/></svg>
</div>
<div class="grow" style="top:446px">
<div class="glab">H…</div>
<div class="glab" style="left:auto;right:289px"><span><span style="display:inline-block;margin-left:-5px">DQB1</span></span></div>
<svg class="abs" style="left:87px;top:7.5px" width="14" height="14" viewBox="0 0 14 14"><circle cx="7" cy="7" r="5.2" fill="none" stroke="#6b6f73" stroke-width="1.1"/><rect x="6.4" y="6.2" width="1.3" height="3.4" fill="#6b6f73"/><rect x="6.4" y="4.1" width="1.3" height="1.3" fill="#6b6f73"/></svg>
<svg class="abs" style="left:114px;top:2px" width="110" height="20" viewBox="0 0 110 20"><rect x="1" y="2.0" width="3" height="14.4" fill="#000"/><rect x="16" y="15.4" width="64" height="0.9" fill="#999"/><rect x="80" y="15.5" width="20" height="0.6" fill="#ccc"/></svg>
<svg class="abs" style="left:232.6px;top:9.9px" width="10.8" height="10.8" viewBox="0 0 12 12"><path d="M4.2 0.6h3.6v1H11v1.3H1V1.6h3.2z" fill="#6d8296"/><path d="M1.8 3.6h8.4v7a1 1 0 0 1-1 1H2.8a1 1 0 0 1-1-1z M3.6 5v5h1V5z M5.6 5v5h1V5z M7.6 5v5h0.8V5z" fill="#6d8296" fill-rule="evenodd"/></svg>
<div class="xy" style="left:260px">x</div>
<div class="xy" style="left:286px">y</div>
<svg class="abs" style="left:310px;top:9px" width="12" height="12" viewBox="0 0 12 12" fill="none" stroke="#5c7080" stroke-width="1.4"><path d="M6.8 5.2 L10.6 1.4 M7.4 1.2h3.4v3.4 M5.2 6.8 L1.4 10.6 M1.2 7.4v3.4h3.4"/></svg>
<svg class="abs" style="left:335.9px;top:8.9px" width="12.2" height="12.2" viewBox="0 0 16 16"><path d="M8 1 C8 1 3 7 3 9.8 A5 4.9 0 0 0 13 9.8 C13 7 8 1 8 1 Z" fill="#5c7080"/></svg>
</div>
<div class="grow" style="top:472px">
<div class="glab">H…</div>
<div class="glab" style="left:auto;right:289px"><span><span style="display:inline-block;margin-left:-5px">DQA1</span></span></div>
<svg class="abs" style="left:87px;top:7.5px" width="14" height="14" viewBox="0 0 14 14"><circle cx="7" cy="7" r="5.2" fill="none" stroke="#6b6f73" stroke-width="1.1"/><rect x="6.4" y="6.2" width="1.3" height="3.4" fill="#6b6f73"/><rect x="6.4" y="4.1" width="1.3" height="1.3" fill="#6b6f73"/></svg>
<svg class="abs" style="left:114px;top:2px" width="110" height="20" viewBox="0 0 110 20"><rect x="1" y="2.0" width="3" height="14.4" fill="#000"/><rect x="16" y="15.4" width="64" height="0.9" fill="#999"/><rect x="80" y="15.5" width="20" height="0.6" fill="#ccc"/></svg>
<svg class="abs" style="left:232.6px;top:9.9px" width="10.8" height="10.8" viewBox="0 0 12 12"><path d="M4.2 0.6h3.6v1H11v1.3H1V1.6h3.2z" fill="#6d8296"/><path d="M1.8 3.6h8.4v7a1 1 0 0 1-1 1H2.8a1 1 0 0 1-1-1z M3.6 5v5h1V5z M5.6 5v5h1V5z M7.6 5v5h0.8V5z" fill="#6d8296" fill-rule="evenodd"/></svg>
<div class="xy" style="left:260px">x</div>
<div class="xy" style="left:286px">y</div>
<svg class="abs" style="left:310px;top:9px" width="12" height="12" viewBox="0 0 12 12" fill="none" stroke="#5c7080" stroke-width="1.4"><path d="M6.8 5.2 L10.6 1.4 M7.4 1.2h3.4v3.4 M5.2 6.8 L1.4 10.6 M1.2 7.4v3.4h3.4"/></svg>
<svg class="abs" style="left:335.9px;top:8.9px" width="12.2" height="12.2" viewBox="0 0 16 16"><path d="M8 1 C8 1 3 7 3 9.8 A5 4.9 0 0 0 13 9.8 C13 7 8 1 8 1 Z" fill="#5c7080"/></svg>
</div>
<div class="grow" style="top:498px">
<div class="glab">H…</div>
<div class="glab" style="left:auto;right:289px"><span><span style="display:inline-block;margin-left:-5px">DRB1</span></span></div>
<svg class="abs" style="left:87px;top:7.5px" width="14" height="14" viewBox="0 0 14 14"><circle cx="7" cy="7" r="5.2" fill="none" stroke="#6b6f73" stroke-width="1.1"/><rect x="6.4" y="6.2" width="1.3" height="3.4" fill="#6b6f73"/><rect x="6.4" y="4.1" width="1.3" height="1.3" fill="#6b6f73"/></svg>
<svg class="abs" style="left:114px;top:2px" width="110" height="20" viewBox="0 0 110 20"><rect x="1" y="2.0" width="3" height="14.4" fill="#000"/><rect x="16" y="15.4" width="64" height="0.9" fill="#555"/><rect x="80" y="15.5" width="20" height="0.6" fill="#ccc"/></svg>
<svg class="abs" style="left:232.6px;top:9.9px" width="10.8" height="10.8" viewBox="0 0 12 12"><path d="M4.2 0.6h3.6v1H11v1.3H1V1.6h3.2z" fill="#6d8296"/><path d="M1.8 3.6h8.4v7a1 1 0 0 1-1 1H2.8a1 1 0 0 1-1-1z M3.6 5v5h1V5z M5.6 5v5h1V5z M7.6 5v5h0.8V5z" fill="#6d8296" fill-rule="evenodd"/></svg>
<div class="xy" style="left:260px">x</div>
<div class="xy" style="left:286px">y</div>
<svg class="abs" style="left:310px;top:9px" width="12" height="12" viewBox="0 0 12 12" fill="none" stroke="#5c7080" stroke-width="1.4"><path d="M6.8 5.2 L10.6 1.4 M7.4 1.2h3.4v3.4 M5.2 6.8 L1.4 10.6 M1.2 7.4v3.4h3.4"/></svg>
<svg class="abs" style="left:335.9px;top:8.9px" width="12.2" height="12.2" viewBox="0 0 16 16"><path d="M8 1 C8 1 3 7 3 9.8 A5 4.9 0 0 0 13 9.8 C13 7 8 1 8 1 Z" fill="#5c7080"/></svg>
</div>
<div class="grow" style="top:524px">
<div class="glab">BANK1</div>
<svg class="abs" style="left:87px;top:7.5px" width="14" height="14" viewBox="0 0 14 14"><circle cx="7" cy="7" r="5.2" fill="none" stroke="#6b6f73" stroke-width="1.1"/><rect x="6.4" y="6.2" width="1.3" height="3.4" fill="#6b6f73"/><rect x="6.4" y="4.1" width="1.3" height="1.3" fill="#6b6f73"/></svg>
<svg class="abs" style="left:114px;top:2px" width="110" height="20" viewBox="0 0 110 20"><rect x="1" y="2.0" width="3" height="14.4" fill="#000"/><rect x="14" y="15.6" width="70" height="0.6" fill="#e4e4e4"/></svg>
<svg class="abs" style="left:232.6px;top:9.9px" width="10.8" height="10.8" viewBox="0 0 12 12"><path d="M4.2 0.6h3.6v1H11v1.3H1V1.6h3.2z" fill="#6d8296"/><path d="M1.8 3.6h8.4v7a1 1 0 0 1-1 1H2.8a1 1 0 0 1-1-1z M3.6 5v5h1V5z M5.6 5v5h1V5z M7.6 5v5h0.8V5z" fill="#6d8296" fill-rule="evenodd"/></svg>
<div class="xy" style="left:260px">x</div>
<div class="xy" style="left:286px">y</div>
<svg class="abs" style="left:310px;top:9px" width="12" height="12" viewBox="0 0 12 12" fill="none" stroke="#5c7080" stroke-width="1.4"><path d="M6.8 5.2 L10.6 1.4 M7.4 1.2h3.4v3.4 M5.2 6.8 L1.4 10.6 M1.2 7.4v3.4h3.4"/></svg>
<svg class="abs" style="left:335.9px;top:8.9px" width="12.2" height="12.2" viewBox="0 0 16 16"><path d="M8 1 C8 1 3 7 3 9.8 A5 4.9 0 0 0 13 9.8 C13 7 8 1 8 1 Z" fill="#5c7080"/></svg>
</div>
<div class="grow" style="top:550px">
<div class="glab">LTB</div>
<svg class="abs" style="left:87px;top:7.5px" width="14" height="14" viewBox="0 0 14 14"><circle cx="7" cy="7" r="5.2" fill="none" stroke="#6b6f73" stroke-width="1.1"/><rect x="6.4" y="6.2" width="1.3" height="3.4" fill="#6b6f73"/><rect x="6.4" y="4.1" width="1.3" height="1.3" fill="#6b6f73"/></svg>
<svg class="abs" style="left:114px;top:2px" width="110" height="20" viewBox="0 0 110 20"><rect x="1" y="2.0" width="3" height="14.4" fill="#000"/><rect x="14" y="15.5" width="1" height="0.5" fill="#111"/><rect x="15" y="15.5" width="1" height="0.5" fill="#111"/><rect x="16" y="15.5" width="1" height="0.5" fill="#111"/><rect x="17" y="15.5" width="1" height="0.5" fill="#111"/><rect x="18" y="15.5" width="1" height="0.5" fill="#111"/><rect x="19" y="15.5" width="1" height="0.5" fill="#111"/><rect x="20" y="15.4" width="1" height="0.6" fill="#111"/><rect x="21" y="15.4" width="1" height="0.6" fill="#111"/><rect x="22" y="15.4" width="1" height="0.6" fill="#111"/><rect x="23" y="15.3" width="1" height="0.7" fill="#111"/><rect x="24" y="15.3" width="1" height="0.7" fill="#111"/><rect x="25" y="15.2" width="1" height="0.8" fill="#111"/><rect x="26" y="15.2" width="1" height="0.8" fill="#111"/><rect x="27" y="15.1" width="1" height="0.9" fill="#111"/><rect x="28" y="15.1" width="1" height="0.9" fill="#111"/><rect x="29" y="15.0" width="1" height="1.0" fill="#111"/><rect x="30" y="14.9" width="1" height="1.1" fill="#111"/><rect x="31" y="14.9" width="1" height="1.1" fill="#111"/><rect x="32" y="14.8" width="1" height="1.2" fill="#111"/><rect x="33" y="14.7" width="1" height="1.3" fill="#111"/><rect x="34" y="14.7" width="1" height="1.3" fill="#111"/><rect x="35" y="14.6" width="1" height="1.4" fill="#111"/><rect x="36" y="14.6" width="1" height="1.4" fill="#111"/><rect x="37" y="14.5" width="1" height="1.5" fill="#111"/><rect x="38" y="14.5" width="1" height="1.5" fill="#111"/><rect x="39" y="14.4" width="1" height="1.6" fill="#111"/><rect x="40" y="14.4" width="1" height="1.6" fill="#111"/><rect x="41" y="14.3" width="1" height="1.7" fill="#111"/><rect x="42" y="14.3" width="1" height="1.7" fill="#111"/><rect x="43" y="14.3" width="1" height="1.7" fill="#111"/><rect x="44" y="14.3" width="1" height="1.7" fill="#111"/><rect x="45" y="14.3" width="1" height="1.7" fill="#111"/><rect x="46" y="14.3" width="1" height="1.7" fill="#111"/><rect x="47" y="14.3" width="1" height="1.7" fill="#111"/><rect x="48" y="14.4" width="1" height="1.6" fill="#111"/><rect x="49" y="14.4" width="1" height="1.6" fill="#111"/><rect x="50" y="14.5" width="1" height="1.5" fill="#111"/><rect x="51" y="14.5" width="1" height="1.5" fill="#111"/><rect x="52" y="14.6" width="1" height="1.4" fill="#111"/><rect x="53" y="14.6" width="1" height="1.4" fill="#111"/><rect x="54" y="14.7" width="1" height="1.3" fill="#111"/><rect x="55" y="14.7" width="1" height="1.3" fill="#111"/><rect x="56" y="14.8" width="1" height="1.2" fill="#111"/><rect x="57" y="14.9" width="1" height="1.1" fill="#111"/><rect x="58" y="14.9" width="1" height="1.1" fill="#111"/><rect x="59" y="15.0" width="1" height="1.0" fill="#111"/><rect x="60" y="15.1" width="1" height="0.9" fill="#111"/><rect x="61" y="15.1" width="1" height="0.9" fill="#111"/><rect x="62" y="15.2" width="1" height="0.8" fill="#111"/><rect x="63" y="15.2" width="1" height="0.8" fill="#111"/><rect x="64" y="15.3" width="1" height="0.7" fill="#111"/><rect x="65" y="15.3" width="1" height="0.7" fill="#111"/><rect x="66" y="15.4" width="1" height="0.6" fill="#111"/><rect x="67" y="15.4" width="1" height="0.6" fill="#111"/><rect x="68" y="15.4" width="1" height="0.6" fill="#111"/><rect x="69" y="15.5" width="1" height="0.5" fill="#111"/><rect x="70" y="15.5" width="1" height="0.5" fill="#111"/><rect x="71" y="15.5" width="1" height="0.5" fill="#111"/><rect x="72" y="15.5" width="1" height="0.5" fill="#111"/><rect x="73" y="15.5" width="1" height="0.5" fill="#111"/><rect x="74" y="15.5" width="1" height="0.5" fill="#111"/><rect x="75" y="15.6" width="1" height="0.4" fill="#111"/><rect x="76" y="15.6" width="1" height="0.4" fill="#111"/><rect x="77" y="15.6" width="1" height="0.4" fill="#111"/><rect x="78" y="15.6" width="1" height="0.4" fill="#111"/><rect x="79" y="15.6" width="1" height="0.4" fill="#111"/></svg>
<svg class="abs" style="left:232.6px;top:9.9px" width="10.8" height="10.8" viewBox="0 0 12 12"><path d="M4.2 0.6h3.6v1H11v1.3H1V1.6h3.2z" fill="#6d8296"/><path d="M1.8 3.6h8.4v7a1 1 0 0 1-1 1H2.8a1 1 0 0 1-1-1z M3.6 5v5h1V5z M5.6 5v5h1V5z M7.6 5v5h0.8V5z" fill="#6d8296" fill-rule="evenodd"/></svg>
<div class="xy" style="left:260px">x</div>
<div class="xy" style="left:286px">y</div>
<svg class="abs" style="left:310px;top:9px" width="12" height="12" viewBox="0 0 12 12" fill="none" stroke="#5c7080" stroke-width="1.4"><path d="M6.8 5.2 L10.6 1.4 M7.4 1.2h3.4v3.4 M5.2 6.8 L1.4 10.6 M1.2 7.4v3.4h3.4"/></svg>
<svg class="abs" style="left:335.9px;top:8.9px" width="12.2" height="12.2" viewBox="0 0 16 16"><path d="M8 1 C8 1 3 7 3 9.8 A5 4.9 0 0 0 13 9.8 C13 7 8 1 8 1 Z" fill="#5c7080"/></svg>
</div>
<div class="grow" style="top:576px">
<div class="glab">H…</div>
<div class="glab" style="left:auto;right:289px"><span><span style="display:inline-block;margin-left:-5px">DPA1</span></span></div>
<svg class="abs" style="left:87px;top:7.5px" width="14" height="14" viewBox="0 0 14 14"><circle cx="7" cy="7" r="5.2" fill="none" stroke="#6b6f73" stroke-width="1.1"/><rect x="6.4" y="6.2" width="1.3" height="3.4" fill="#6b6f73"/><rect x="6.4" y="4.1" width="1.3" height="1.3" fill="#6b6f73"/></svg>
<svg class="abs" style="left:114px;top:2px" width="110" height="20" viewBox="0 0 110 20"><rect x="1" y="2.0" width="3" height="14.4" fill="#000"/><rect x="16" y="15.4" width="64" height="0.9" fill="#555"/><rect x="80" y="15.5" width="20" height="0.6" fill="#ccc"/></svg>
<svg class="abs" style="left:232.6px;top:9.9px" width="10.8" height="10.8" viewBox="0 0 12 12"><path d="M4.2 0.6h3.6v1H11v1.3H1V1.6h3.2z" fill="#6d8296"/><path d="M1.8 3.6h8.4v7a1 1 0 0 1-1 1H2.8a1 1 0 0 1-1-1z M3.6 5v5h1V5z M5.6 5v5h1V5z M7.6 5v5h0.8V5z" fill="#6d8296" fill-rule="evenodd"/></svg>
<div class="xy" style="left:260px">x</div>
<div class="xy" style="left:286px">y</div>
<svg class="abs" style="left:310px;top:9px" width="12" height="12" viewBox="0 0 12 12" fill="none" stroke="#5c7080" stroke-width="1.4"><path d="M6.8 5.2 L10.6 1.4 M7.4 1.2h3.4v3.4 M5.2 6.8 L1.4 10.6 M1.2 7.4v3.4h3.4"/></svg>
<svg class="abs" style="left:335.9px;top:8.9px" width="12.2" height="12.2" viewBox="0 0 16 16"><path d="M8 1 C8 1 3 7 3 9.8 A5 4.9 0 0 0 13 9.8 C13 7 8 1 8 1 Z" fill="#5c7080"/></svg>
</div>
<div class="grow" style="top:602px">
<div class="glab">H…</div>
<div class="glab" style="left:auto;right:289px"><span><span style="display:inline-block;margin-left:-5px">DPB1</span></span></div>
<svg class="abs" style="left:87px;top:7.5px" width="14" height="14" viewBox="0 0 14 14"><circle cx="7" cy="7" r="5.2" fill="none" stroke="#6b6f73" stroke-width="1.1"/><rect x="6.4" y="6.2" width="1.3" height="3.4" fill="#6b6f73"/><rect x="6.4" y="4.1" width="1.3" height="1.3" fill="#6b6f73"/></svg>
<svg class="abs" style="left:114px;top:2px" width="110" height="20" viewBox="0 0 110 20"><rect x="1" y="2.0" width="3" height="14.4" fill="#000"/><rect x="16" y="15.4" width="64" height="0.9" fill="#555"/><rect x="80" y="15.5" width="20" height="0.6" fill="#ccc"/></svg>
<svg class="abs" style="left:232.6px;top:9.9px" width="10.8" height="10.8" viewBox="0 0 12 12"><path d="M4.2 0.6h3.6v1H11v1.3H1V1.6h3.2z" fill="#6d8296"/><path d="M1.8 3.6h8.4v7a1 1 0 0 1-1 1H2.8a1 1 0 0 1-1-1z M3.6 5v5h1V5z M5.6 5v5h1V5z M7.6 5v5h0.8V5z" fill="#6d8296" fill-rule="evenodd"/></svg>
<div class="xy" style="left:260px">x</div>
<div class="xy" style="left:286px">y</div>
<svg class="abs" style="left:310px;top:9px" width="12" height="12" viewBox="0 0 12 12" fill="none" stroke="#5c7080" stroke-width="1.4"><path d="M6.8 5.2 L10.6 1.4 M7.4 1.2h3.4v3.4 M5.2 6.8 L1.4 10.6 M1.2 7.4v3.4h3.4"/></svg>
<svg class="abs" style="left:335.9px;top:8.9px" width="12.2" height="12.2" viewBox="0 0 16 16"><path d="M8 1 C8 1 3 7 3 9.8 A5 4.9 0 0 0 13 9.8 C13 7 8 1 8 1 Z" fill="#5c7080"/></svg>
</div>
<div class="grow" style="top:628px">
<div class="glab">CD37</div>
<svg class="abs" style="left:87px;top:7.5px" width="14" height="14" viewBox="0 0 14 14"><circle cx="7" cy="7" r="5.2" fill="none" stroke="#6b6f73" stroke-width="1.1"/><rect x="6.4" y="6.2" width="1.3" height="3.4" fill="#6b6f73"/><rect x="6.4" y="4.1" width="1.3" height="1.3" fill="#6b6f73"/></svg>
<svg class="abs" style="left:114px;top:2px" width="110" height="20" viewBox="0 0 110 20"><rect x="1" y="3.6" width="3" height="12.8" fill="#000"/><rect x="20.19" y="13.9" width="2.72" height="2.5" fill="#000"/><rect x="23.11" y="11.0" width="2.72" height="5.4" fill="#000"/><rect x="26.03" y="10.9" width="2.30" height="5.5" fill="#000"/><rect x="28.53" y="10.8" width="2.30" height="5.6" fill="#000"/><rect x="31.03" y="9.9" width="2.72" height="6.5" fill="#000"/><rect x="33.95" y="7.1" width="2.30" height="9.3" fill="#000"/><rect x="36.45" y="6.4" width="2.72" height="10.0" fill="#000"/><rect x="39.37" y="4.0" width="2.72" height="12.4" fill="#000"/><rect x="42.29" y="3.8" width="2.72" height="12.6" fill="#000"/><rect x="45.21" y="1.8" width="2.72" height="14.6" fill="#000"/><rect x="48.13" y="2.8" width="2.30" height="13.6" fill="#000"/><rect x="50.63" y="2.9" width="2.30" height="13.5" fill="#000"/><rect x="53.14" y="5.9" width="2.72" height="10.5" fill="#000"/><rect x="56.05" y="7.7" width="2.72" height="8.7" fill="#000"/><rect x="58.97" y="10.8" width="2.72" height="5.6" fill="#000"/><rect x="61.89" y="12.6" width="2.30" height="3.8" fill="#000"/><rect x="64.39" y="14.1" width="2.30" height="2.3" fill="#000"/><rect x="66.90" y="15.1" width="2.72" height="1.3" fill="#000"/><rect x="69.82" y="15.6" width="4.39" height="0.8" fill="#000"/><rect x="74.40" y="15.5" width="8.14" height="0.9" fill="#000"/><rect x="82.74" y="15.9" width="8.14" height="0.5" fill="#000"/><rect x="17.3" y="15.9" width="3" height="0.5" fill="#000"/></svg>
<svg class="abs" style="left:232.6px;top:9.9px" width="10.8" height="10.8" viewBox="0 0 12 12"><path d="M4.2 0.6h3.6v1H11v1.3H1V1.6h3.2z" fill="#6d8296"/><path d="M1.8 3.6h8.4v7a1 1 0 0 1-1 1H2.8a1 1 0 0 1-1-1z M3.6 5v5h1V5z M5.6 5v5h1V5z M7.6 5v5h0.8V5z" fill="#6d8296" fill-rule="evenodd"/></svg>
<div class="xy" style="left:260px">x</div>
<div class="xy" style="left:286px">y</div>
<svg class="abs" style="left:310px;top:9px" width="12" height="12" viewBox="0 0 12 12" fill="none" stroke="#5c7080" stroke-width="1.4"><path d="M6.8 5.2 L10.6 1.4 M7.4 1.2h3.4v3.4 M5.2 6.8 L1.4 10.6 M1.2 7.4v3.4h3.4"/></svg>
<svg class="abs" style="left:335.9px;top:8.9px" width="12.2" height="12.2" viewBox="0 0 16 16"><path d="M8 1 C8 1 3 7 3 9.8 A5 4.9 0 0 0 13 9.8 C13 7 8 1 8 1 Z" fill="#5c7080"/></svg>
</div>
<div class="grow" style="top:654px">
<div class="glab">R…</div>
<div class="glab" style="left:auto;right:289px"><span><span style="display:inline-block;margin-left:-0px">GPS2</span></span></div>
<svg class="abs" style="left:87px;top:7.5px" width="14" height="14" viewBox="0 0 14 14"><circle cx="7" cy="7" r="5.2" fill="none" stroke="#6b6f73" stroke-width="1.1"/><rect x="6.4" y="6.2" width="1.3" height="3.4" fill="#6b6f73"/><rect x="6.4" y="4.1" width="1.3" height="1.3" fill="#6b6f73"/></svg>
<svg class="abs" style="left:114px;top:2px" width="110" height="20" viewBox="0 0 110 20"><rect x="1" y="2.0" width="3" height="14.4" fill="#000"/><rect x="14" y="15.6" width="70" height="0.6" fill="#e4e4e4"/></svg>
<svg class="abs" style="left:232.6px;top:9.9px" width="10.8" height="10.8" viewBox="0 0 12 12"><path d="M4.2 0.6h3.6v1H11v1.3H1V1.6h3.2z" fill="#6d8296"/><path d="M1.8 3.6h8.4v7a1 1 0 0 1-1 1H2.8a1 1 0 0 1-1-1z M3.6 5v5h1V5z M5.6 5v5h1V5z M7.6 5v5h0.8V5z" fill="#6d8296" fill-rule="evenodd"/></svg>
<div class="xy" style="left:260px">x</div>
<div class="xy" style="left:286px">y</div>
<svg class="abs" style="left:310px;top:9px" width="12" height="12" viewBox="0 0 12 12" fill="none" stroke="#5c7080" stroke-width="1.4"><path d="M6.8 5.2 L10.6 1.4 M7.4 1.2h3.4v3.4 M5.2 6.8 L1.4 10.6 M1.2 7.4v3.4h3.4"/></svg>
<svg class="abs" style="left:335.9px;top:8.9px" width="12.2" height="12.2" viewBox="0 0 16 16"><path d="M8 1 C8 1 3 7 3 9.8 A5 4.9 0 0 0 13 9.8 C13 7 8 1 8 1 Z" fill="#5c7080"/></svg>
</div>
<div class="grow" style="top:680px">
<div class="glab">NCF1</div>
<svg class="abs" style="left:87px;top:7.5px" width="14" height="14" viewBox="0 0 14 14"><circle cx="7" cy="7" r="5.2" fill="none" stroke="#6b6f73" stroke-width="1.1"/><rect x="6.4" y="6.2" width="1.3" height="3.4" fill="#6b6f73"/><rect x="6.4" y="4.1" width="1.3" height="1.3" fill="#6b6f73"/></svg>
<svg class="abs" style="left:114px;top:2px" width="110" height="20" viewBox="0 0 110 20"><rect x="1" y="2.0" width="3" height="14.4" fill="#000"/><rect x="16" y="15.4" width="64" height="0.9" fill="#555"/><rect x="80" y="15.5" width="20" height="0.6" fill="#ccc"/></svg>
<svg class="abs" style="left:232.6px;top:9.9px" width="10.8" height="10.8" viewBox="0 0 12 12"><path d="M4.2 0.6h3.6v1H11v1.3H1V1.6h3.2z" fill="#6d8296"/><path d="M1.8 3.6h8.4v7a1 1 0 0 1-1 1H2.8a1 1 0 0 1-1-1z M3.6 5v5h1V5z M5.6 5v5h1V5z M7.6 5v5h0.8V5z" fill="#6d8296" fill-rule="evenodd"/></svg>
<div class="xy" style="left:260px">x</div>
<div class="xy" style="left:286px">y</div>
<svg class="abs" style="left:310px;top:9px" width="12" height="12" viewBox="0 0 12 12" fill="none" stroke="#5c7080" stroke-width="1.4"><path d="M6.8 5.2 L10.6 1.4 M7.4 1.2h3.4v3.4 M5.2 6.8 L1.4 10.6 M1.2 7.4v3.4h3.4"/></svg>
<svg class="abs" style="left:335.9px;top:8.9px" width="12.2" height="12.2" viewBox="0 0 16 16"><path d="M8 1 C8 1 3 7 3 9.8 A5 4.9 0 0 0 13 9.8 C13 7 8 1 8 1 Z" fill="#5c7080"/></svg>
</div>
<div class="grow" style="top:706px">
<div class="glab">H…</div>
<div class="glab" style="left:auto;right:289px"><span><span style="display:inline-block;margin-left:-5px">00926</span></span></div>
<svg class="abs" style="left:87px;top:7.5px" width="14" height="14" viewBox="0 0 14 14"><circle cx="7" cy="7" r="5.2" fill="none" stroke="#6b6f73" stroke-width="1.1"/><rect x="6.4" y="6.2" width="1.3" height="3.4" fill="#6b6f73"/><rect x="6.4" y="4.1" width="1.3" height="1.3" fill="#6b6f73"/></svg>
<svg class="abs" style="left:114px;top:2px" width="110" height="20" viewBox="0 0 110 20"><rect x="1" y="2.0" width="3" height="14.4" fill="#000"/><rect x="14" y="15.6" width="70" height="0.6" fill="#e4e4e4"/></svg>
<svg class="abs" style="left:232.6px;top:9.9px" width="10.8" height="10.8" viewBox="0 0 12 12"><path d="M4.2 0.6h3.6v1H11v1.3H1V1.6h3.2z" fill="#6d8296"/><path d="M1.8 3.6h8.4v7a1 1 0 0 1-1 1H2.8a1 1 0 0 1-1-1z M3.6 5v5h1V5z M5.6 5v5h1V5z M7.6 5v5h0.8V5z" fill="#6d8296" fill-rule="evenodd"/></svg>
<div class="xy" style="left:260px">x</div>
<div class="xy" style="left:286px">y</div>
<svg class="abs" style="left:310px;top:9px" width="12" height="12" viewBox="0 0 12 12" fill="none" stroke="#5c7080" stroke-width="1.4"><path d="M6.8 5.2 L10.6 1.4 M7.4 1.2h3.4v3.4 M5.2 6.8 L1.4 10.6 M1.2 7.4v3.4h3.4"/></svg>
<svg class="abs" style="left:335.9px;top:8.9px" width="12.2" height="12.2" viewBox="0 0 16 16"><path d="M8 1 C8 1 3 7 3 9.8 A5 4.9 0 0 0 13 9.8 C13 7 8 1 8 1 Z" fill="#5c7080"/></svg>
</div>
</div></div>
<div id="bottom"></div>
</body></html>
